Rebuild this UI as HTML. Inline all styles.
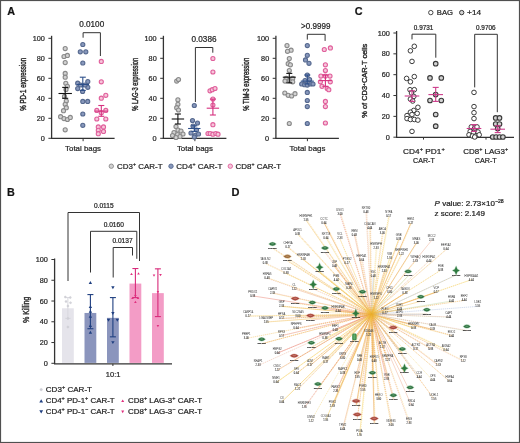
<!DOCTYPE html>
<html><head><meta charset="utf-8"><style>
html,body{margin:0;padding:0;background:#fff;}
body{width:520px;height:443px;overflow:hidden;}
svg{display:block;will-change:transform;font-family:"Liberation Sans",sans-serif;}
.hv text{stroke:#2a2a2a;stroke-width:0.22px;}
</style></head><body>
<svg width="520" height="443" viewBox="0 0 520 443">
<rect x="0" y="0" width="520" height="443" fill="#fff"/>
<g class="hv">
<text x="7.20" y="14.50" font-size="10.8" text-anchor="start" font-weight="bold" fill="#111" >A</text>
<text x="7.00" y="196.30" font-size="10.8" text-anchor="start" font-weight="bold" fill="#111" >B</text>
<text x="354.80" y="14.60" font-size="10.8" text-anchor="start" font-weight="bold" fill="#111" >C</text>
<text x="231.60" y="196.30" font-size="11" text-anchor="start" font-weight="bold" fill="#111" stroke="#111" stroke-width="0.25">D</text>
<line x1="51.60" y1="35.80" x2="51.60" y2="138.60" stroke="#333" stroke-width="1.3" />
<line x1="48.40" y1="138.30" x2="51.60" y2="138.30" stroke="#333" stroke-width="1.0" />
<text x="44.90" y="140.90" font-size="7.4" text-anchor="end" fill="#222" textLength="4.1" lengthAdjust="spacingAndGlyphs">0</text>
<line x1="48.40" y1="118.30" x2="51.60" y2="118.30" stroke="#333" stroke-width="1.0" />
<text x="44.90" y="120.90" font-size="7.4" text-anchor="end" fill="#222" textLength="8.1" lengthAdjust="spacingAndGlyphs">20</text>
<line x1="48.40" y1="98.30" x2="51.60" y2="98.30" stroke="#333" stroke-width="1.0" />
<text x="44.90" y="100.90" font-size="7.4" text-anchor="end" fill="#222" textLength="8.1" lengthAdjust="spacingAndGlyphs">40</text>
<line x1="48.40" y1="78.30" x2="51.60" y2="78.30" stroke="#333" stroke-width="1.0" />
<text x="44.90" y="80.90" font-size="7.4" text-anchor="end" fill="#222" textLength="8.1" lengthAdjust="spacingAndGlyphs">60</text>
<line x1="48.40" y1="58.30" x2="51.60" y2="58.30" stroke="#333" stroke-width="1.0" />
<text x="44.90" y="60.90" font-size="7.4" text-anchor="end" fill="#222" textLength="8.1" lengthAdjust="spacingAndGlyphs">80</text>
<line x1="48.40" y1="38.30" x2="51.60" y2="38.30" stroke="#333" stroke-width="1.0" />
<text x="44.90" y="40.90" font-size="7.4" text-anchor="end" fill="#222" textLength="12.2" lengthAdjust="spacingAndGlyphs">100</text>
<line x1="51.00" y1="138.30" x2="114.60" y2="138.30" stroke="#333" stroke-width="1.3" />
<line x1="83.10" y1="138.30" x2="83.10" y2="141.20" stroke="#333" stroke-width="1.0" />
<text x="83.10" y="150.90" font-size="7.9" text-anchor="middle" font-weight="normal" fill="#222" >Total bags</text>
<text transform="translate(25.5,84.3) rotate(-90)" x="0" y="0" font-size="8.4" text-anchor="middle" fill="#222" style="stroke-width:0.42px" textLength="53" lengthAdjust="spacingAndGlyphs">% PD-1 expression</text>
<circle cx="65.20" cy="48.60" r="2.05" fill="#d2d2d2" stroke="#8a8a8a" stroke-width="1.1"/>
<circle cx="64.00" cy="56.50" r="2.05" fill="#d2d2d2" stroke="#8a8a8a" stroke-width="1.1"/>
<circle cx="67.40" cy="55.40" r="2.05" fill="#d2d2d2" stroke="#8a8a8a" stroke-width="1.1"/>
<circle cx="65.20" cy="62.60" r="2.05" fill="#d2d2d2" stroke="#8a8a8a" stroke-width="1.1"/>
<circle cx="65.20" cy="73.40" r="2.05" fill="#d2d2d2" stroke="#8a8a8a" stroke-width="1.1"/>
<circle cx="65.20" cy="77.20" r="2.05" fill="#d2d2d2" stroke="#8a8a8a" stroke-width="1.1"/>
<circle cx="65.80" cy="83.30" r="2.05" fill="#d2d2d2" stroke="#8a8a8a" stroke-width="1.1"/>
<circle cx="67.40" cy="86.30" r="2.05" fill="#d2d2d2" stroke="#8a8a8a" stroke-width="1.1"/>
<circle cx="64.50" cy="96.40" r="2.05" fill="#d2d2d2" stroke="#8a8a8a" stroke-width="1.1"/>
<circle cx="66.30" cy="101.00" r="2.05" fill="#d2d2d2" stroke="#8a8a8a" stroke-width="1.1"/>
<circle cx="65.20" cy="104.30" r="2.05" fill="#d2d2d2" stroke="#8a8a8a" stroke-width="1.1"/>
<circle cx="66.30" cy="107.70" r="2.05" fill="#d2d2d2" stroke="#8a8a8a" stroke-width="1.1"/>
<circle cx="60.60" cy="116.70" r="2.05" fill="#d2d2d2" stroke="#8a8a8a" stroke-width="1.1"/>
<circle cx="64.00" cy="118.60" r="2.05" fill="#d2d2d2" stroke="#8a8a8a" stroke-width="1.1"/>
<circle cx="67.40" cy="119.50" r="2.05" fill="#d2d2d2" stroke="#8a8a8a" stroke-width="1.1"/>
<circle cx="70.30" cy="117.40" r="2.05" fill="#d2d2d2" stroke="#8a8a8a" stroke-width="1.1"/>
<circle cx="65.20" cy="129.80" r="2.05" fill="#d2d2d2" stroke="#8a8a8a" stroke-width="1.1"/>
<circle cx="66.00" cy="89.50" r="2.05" fill="#d2d2d2" stroke="#8a8a8a" stroke-width="1.1"/>
<circle cx="63.50" cy="110.70" r="2.05" fill="#d2d2d2" stroke="#8a8a8a" stroke-width="1.1"/>
<circle cx="82.80" cy="44.50" r="2.05" fill="#8898bc" stroke="#56698f" stroke-width="1.1"/>
<circle cx="80.30" cy="51.80" r="2.05" fill="#8898bc" stroke="#56698f" stroke-width="1.1"/>
<circle cx="85.80" cy="51.80" r="2.05" fill="#8898bc" stroke="#56698f" stroke-width="1.1"/>
<circle cx="82.80" cy="63.00" r="2.05" fill="#8898bc" stroke="#56698f" stroke-width="1.1"/>
<circle cx="77.70" cy="83.20" r="2.05" fill="#8898bc" stroke="#56698f" stroke-width="1.1"/>
<circle cx="87.80" cy="81.60" r="2.05" fill="#8898bc" stroke="#56698f" stroke-width="1.1"/>
<circle cx="87.80" cy="87.30" r="2.05" fill="#8898bc" stroke="#56698f" stroke-width="1.1"/>
<circle cx="77.70" cy="88.60" r="2.05" fill="#8898bc" stroke="#56698f" stroke-width="1.1"/>
<circle cx="82.60" cy="91.50" r="2.05" fill="#8898bc" stroke="#56698f" stroke-width="1.1"/>
<circle cx="80.50" cy="85.00" r="2.05" fill="#8898bc" stroke="#56698f" stroke-width="1.1"/>
<circle cx="85.00" cy="85.00" r="2.05" fill="#8898bc" stroke="#56698f" stroke-width="1.1"/>
<circle cx="82.80" cy="101.40" r="2.05" fill="#8898bc" stroke="#56698f" stroke-width="1.1"/>
<circle cx="87.70" cy="101.40" r="2.05" fill="#8898bc" stroke="#56698f" stroke-width="1.1"/>
<circle cx="82.80" cy="114.00" r="2.05" fill="#8898bc" stroke="#56698f" stroke-width="1.1"/>
<circle cx="82.80" cy="125.30" r="2.05" fill="#8898bc" stroke="#56698f" stroke-width="1.1"/>
<circle cx="101.30" cy="61.40" r="2.05" fill="#f6c6da" stroke="#e0609c" stroke-width="1.1"/>
<circle cx="101.30" cy="81.80" r="2.05" fill="#f6c6da" stroke="#e0609c" stroke-width="1.1"/>
<circle cx="101.30" cy="98.20" r="2.05" fill="#f6c6da" stroke="#e0609c" stroke-width="1.1"/>
<circle cx="105.80" cy="95.30" r="2.05" fill="#f6c6da" stroke="#e0609c" stroke-width="1.1"/>
<circle cx="96.80" cy="110.40" r="2.05" fill="#f6c6da" stroke="#e0609c" stroke-width="1.1"/>
<circle cx="105.80" cy="110.40" r="2.05" fill="#f6c6da" stroke="#e0609c" stroke-width="1.1"/>
<circle cx="101.30" cy="112.70" r="2.05" fill="#f6c6da" stroke="#e0609c" stroke-width="1.1"/>
<circle cx="96.80" cy="119.00" r="2.05" fill="#f6c6da" stroke="#e0609c" stroke-width="1.1"/>
<circle cx="105.80" cy="119.00" r="2.05" fill="#f6c6da" stroke="#e0609c" stroke-width="1.1"/>
<circle cx="98.30" cy="126.90" r="2.05" fill="#f6c6da" stroke="#e0609c" stroke-width="1.1"/>
<circle cx="103.50" cy="126.90" r="2.05" fill="#f6c6da" stroke="#e0609c" stroke-width="1.1"/>
<circle cx="98.30" cy="130.30" r="2.05" fill="#f6c6da" stroke="#e0609c" stroke-width="1.1"/>
<circle cx="103.50" cy="131.40" r="2.05" fill="#f6c6da" stroke="#e0609c" stroke-width="1.1"/>
<circle cx="98.30" cy="133.70" r="2.05" fill="#f6c6da" stroke="#e0609c" stroke-width="1.1"/>
<line x1="58.50" y1="93.50" x2="71.90" y2="93.50" stroke="#111" stroke-width="1.1" />
<line x1="65.20" y1="87.40" x2="65.20" y2="98.30" stroke="#111" stroke-width="1.1" />
<line x1="62.20" y1="87.40" x2="68.20" y2="87.40" stroke="#111" stroke-width="1.1" />
<line x1="62.20" y1="98.30" x2="68.20" y2="98.30" stroke="#111" stroke-width="1.1" />
<line x1="76.60" y1="84.50" x2="89.00" y2="84.50" stroke="#2d4f8a" stroke-width="1.1" />
<line x1="82.80" y1="77.20" x2="82.80" y2="90.40" stroke="#2d4f8a" stroke-width="1.1" />
<line x1="79.80" y1="77.20" x2="85.80" y2="77.20" stroke="#2d4f8a" stroke-width="1.1" />
<line x1="79.80" y1="90.40" x2="85.80" y2="90.40" stroke="#2d4f8a" stroke-width="1.1" />
<line x1="94.60" y1="111.10" x2="108.00" y2="111.10" stroke="#d6307f" stroke-width="1.1" />
<line x1="101.30" y1="105.50" x2="101.30" y2="116.30" stroke="#d6307f" stroke-width="1.1" />
<line x1="98.30" y1="105.50" x2="104.30" y2="105.50" stroke="#d6307f" stroke-width="1.1" />
<line x1="98.30" y1="116.30" x2="104.30" y2="116.30" stroke="#d6307f" stroke-width="1.1" />
<polyline points="83.1,37.7 83.1,32.7 100.4,32.7 100.4,56" fill="none" stroke="#333" stroke-width="1"/>
<text x="91.70" y="27.30" font-size="8.2" text-anchor="middle" fill="#222" textLength="25" lengthAdjust="spacingAndGlyphs">0.0100</text>
<line x1="163.40" y1="35.80" x2="163.40" y2="138.60" stroke="#333" stroke-width="1.3" />
<line x1="160.20" y1="138.30" x2="163.40" y2="138.30" stroke="#333" stroke-width="1.0" />
<text x="156.70" y="140.90" font-size="7.4" text-anchor="end" fill="#222" textLength="4.1" lengthAdjust="spacingAndGlyphs">0</text>
<line x1="160.20" y1="118.30" x2="163.40" y2="118.30" stroke="#333" stroke-width="1.0" />
<text x="156.70" y="120.90" font-size="7.4" text-anchor="end" fill="#222" textLength="8.1" lengthAdjust="spacingAndGlyphs">20</text>
<line x1="160.20" y1="98.30" x2="163.40" y2="98.30" stroke="#333" stroke-width="1.0" />
<text x="156.70" y="100.90" font-size="7.4" text-anchor="end" fill="#222" textLength="8.1" lengthAdjust="spacingAndGlyphs">40</text>
<line x1="160.20" y1="78.30" x2="163.40" y2="78.30" stroke="#333" stroke-width="1.0" />
<text x="156.70" y="80.90" font-size="7.4" text-anchor="end" fill="#222" textLength="8.1" lengthAdjust="spacingAndGlyphs">60</text>
<line x1="160.20" y1="58.30" x2="163.40" y2="58.30" stroke="#333" stroke-width="1.0" />
<text x="156.70" y="60.90" font-size="7.4" text-anchor="end" fill="#222" textLength="8.1" lengthAdjust="spacingAndGlyphs">80</text>
<line x1="160.20" y1="38.30" x2="163.40" y2="38.30" stroke="#333" stroke-width="1.0" />
<text x="156.70" y="40.90" font-size="7.4" text-anchor="end" fill="#222" textLength="12.2" lengthAdjust="spacingAndGlyphs">100</text>
<line x1="162.80" y1="138.30" x2="226.40" y2="138.30" stroke="#333" stroke-width="1.3" />
<line x1="194.90" y1="138.30" x2="194.90" y2="141.20" stroke="#333" stroke-width="1.0" />
<text x="194.90" y="150.90" font-size="7.9" text-anchor="middle" font-weight="normal" fill="#222" >Total bags</text>
<text transform="translate(137.5,84.3) rotate(-90)" x="0" y="0" font-size="8.4" text-anchor="middle" fill="#222" style="stroke-width:0.42px" textLength="53" lengthAdjust="spacingAndGlyphs">% LAG-3 expression</text>
<circle cx="176.70" cy="81.10" r="2.05" fill="#d2d2d2" stroke="#8a8a8a" stroke-width="1.1"/>
<circle cx="178.50" cy="79.50" r="2.05" fill="#d2d2d2" stroke="#8a8a8a" stroke-width="1.1"/>
<circle cx="177.90" cy="99.80" r="2.05" fill="#d2d2d2" stroke="#8a8a8a" stroke-width="1.1"/>
<circle cx="177.90" cy="104.30" r="2.05" fill="#d2d2d2" stroke="#8a8a8a" stroke-width="1.1"/>
<circle cx="176.70" cy="107.70" r="2.05" fill="#d2d2d2" stroke="#8a8a8a" stroke-width="1.1"/>
<circle cx="178.50" cy="110.00" r="2.05" fill="#d2d2d2" stroke="#8a8a8a" stroke-width="1.1"/>
<circle cx="176.00" cy="126.50" r="2.05" fill="#d2d2d2" stroke="#8a8a8a" stroke-width="1.1"/>
<circle cx="178.00" cy="130.00" r="2.05" fill="#d2d2d2" stroke="#8a8a8a" stroke-width="1.1"/>
<circle cx="174.00" cy="132.50" r="2.05" fill="#d2d2d2" stroke="#8a8a8a" stroke-width="1.1"/>
<circle cx="181.00" cy="131.00" r="2.05" fill="#d2d2d2" stroke="#8a8a8a" stroke-width="1.1"/>
<circle cx="183.00" cy="134.00" r="2.05" fill="#d2d2d2" stroke="#8a8a8a" stroke-width="1.1"/>
<circle cx="177.50" cy="134.50" r="2.05" fill="#d2d2d2" stroke="#8a8a8a" stroke-width="1.1"/>
<circle cx="172.50" cy="135.50" r="2.05" fill="#d2d2d2" stroke="#8a8a8a" stroke-width="1.1"/>
<circle cx="180.00" cy="136.50" r="2.05" fill="#d2d2d2" stroke="#8a8a8a" stroke-width="1.1"/>
<circle cx="176.00" cy="137.50" r="2.05" fill="#d2d2d2" stroke="#8a8a8a" stroke-width="1.1"/>
<circle cx="194.30" cy="105.50" r="2.05" fill="#8898bc" stroke="#56698f" stroke-width="1.1"/>
<circle cx="192.50" cy="120.50" r="2.05" fill="#8898bc" stroke="#56698f" stroke-width="1.1"/>
<circle cx="197.50" cy="123.00" r="2.05" fill="#8898bc" stroke="#56698f" stroke-width="1.1"/>
<circle cx="193.00" cy="126.00" r="2.05" fill="#8898bc" stroke="#56698f" stroke-width="1.1"/>
<circle cx="196.50" cy="130.00" r="2.05" fill="#8898bc" stroke="#56698f" stroke-width="1.1"/>
<circle cx="191.00" cy="133.00" r="2.05" fill="#8898bc" stroke="#56698f" stroke-width="1.1"/>
<circle cx="195.00" cy="135.50" r="2.05" fill="#8898bc" stroke="#56698f" stroke-width="1.1"/>
<circle cx="198.50" cy="134.00" r="2.05" fill="#8898bc" stroke="#56698f" stroke-width="1.1"/>
<circle cx="194.30" cy="137.00" r="2.05" fill="#8898bc" stroke="#56698f" stroke-width="1.1"/>
<circle cx="212.90" cy="58.50" r="2.05" fill="#f6c6da" stroke="#e0609c" stroke-width="1.1"/>
<circle cx="212.90" cy="72.00" r="2.05" fill="#f6c6da" stroke="#e0609c" stroke-width="1.1"/>
<circle cx="210.00" cy="90.80" r="2.05" fill="#f6c6da" stroke="#e0609c" stroke-width="1.1"/>
<circle cx="212.30" cy="89.70" r="2.05" fill="#f6c6da" stroke="#e0609c" stroke-width="1.1"/>
<circle cx="215.00" cy="88.50" r="2.05" fill="#f6c6da" stroke="#e0609c" stroke-width="1.1"/>
<circle cx="212.90" cy="99.00" r="2.05" fill="#f6c6da" stroke="#e0609c" stroke-width="1.1"/>
<circle cx="212.90" cy="105.00" r="2.05" fill="#f6c6da" stroke="#e0609c" stroke-width="1.1"/>
<circle cx="212.90" cy="124.70" r="2.05" fill="#f6c6da" stroke="#e0609c" stroke-width="1.1"/>
<circle cx="208.00" cy="133.50" r="2.05" fill="#f6c6da" stroke="#e0609c" stroke-width="1.1"/>
<circle cx="210.20" cy="133.50" r="2.05" fill="#f6c6da" stroke="#e0609c" stroke-width="1.1"/>
<circle cx="212.90" cy="134.20" r="2.05" fill="#f6c6da" stroke="#e0609c" stroke-width="1.1"/>
<circle cx="215.80" cy="133.50" r="2.05" fill="#f6c6da" stroke="#e0609c" stroke-width="1.1"/>
<circle cx="218.00" cy="134.20" r="2.05" fill="#f6c6da" stroke="#e0609c" stroke-width="1.1"/>
<line x1="171.70" y1="119.00" x2="184.10" y2="119.00" stroke="#111" stroke-width="1.1" />
<line x1="177.90" y1="114.00" x2="177.90" y2="124.00" stroke="#111" stroke-width="1.1" />
<line x1="174.90" y1="114.00" x2="180.90" y2="114.00" stroke="#111" stroke-width="1.1" />
<line x1="174.90" y1="124.00" x2="180.90" y2="124.00" stroke="#111" stroke-width="1.1" />
<line x1="188.10" y1="128.50" x2="200.50" y2="128.50" stroke="#2d4f8a" stroke-width="1.1" />
<line x1="194.30" y1="125.80" x2="194.30" y2="131.40" stroke="#2d4f8a" stroke-width="1.1" />
<line x1="191.30" y1="125.80" x2="197.30" y2="125.80" stroke="#2d4f8a" stroke-width="1.1" />
<line x1="191.30" y1="131.40" x2="197.30" y2="131.40" stroke="#2d4f8a" stroke-width="1.1" />
<line x1="206.70" y1="108.20" x2="219.10" y2="108.20" stroke="#d6307f" stroke-width="1.1" />
<line x1="212.90" y1="99.10" x2="212.90" y2="115.00" stroke="#d6307f" stroke-width="1.1" />
<line x1="209.90" y1="99.10" x2="215.90" y2="99.10" stroke="#d6307f" stroke-width="1.1" />
<line x1="209.90" y1="115.00" x2="215.90" y2="115.00" stroke="#d6307f" stroke-width="1.1" />
<polyline points="195.4,102 195.4,47.5 212.8,47.5 212.8,52.7" fill="none" stroke="#333" stroke-width="1"/>
<text x="204.00" y="42.20" font-size="8.2" text-anchor="middle" fill="#222" textLength="25" lengthAdjust="spacingAndGlyphs">0.0386</text>
<line x1="275.90" y1="35.80" x2="275.90" y2="138.60" stroke="#333" stroke-width="1.3" />
<line x1="272.70" y1="138.30" x2="275.90" y2="138.30" stroke="#333" stroke-width="1.0" />
<text x="269.20" y="140.90" font-size="7.4" text-anchor="end" fill="#222" textLength="4.1" lengthAdjust="spacingAndGlyphs">0</text>
<line x1="272.70" y1="118.30" x2="275.90" y2="118.30" stroke="#333" stroke-width="1.0" />
<text x="269.20" y="120.90" font-size="7.4" text-anchor="end" fill="#222" textLength="8.1" lengthAdjust="spacingAndGlyphs">20</text>
<line x1="272.70" y1="98.30" x2="275.90" y2="98.30" stroke="#333" stroke-width="1.0" />
<text x="269.20" y="100.90" font-size="7.4" text-anchor="end" fill="#222" textLength="8.1" lengthAdjust="spacingAndGlyphs">40</text>
<line x1="272.70" y1="78.30" x2="275.90" y2="78.30" stroke="#333" stroke-width="1.0" />
<text x="269.20" y="80.90" font-size="7.4" text-anchor="end" fill="#222" textLength="8.1" lengthAdjust="spacingAndGlyphs">60</text>
<line x1="272.70" y1="58.30" x2="275.90" y2="58.30" stroke="#333" stroke-width="1.0" />
<text x="269.20" y="60.90" font-size="7.4" text-anchor="end" fill="#222" textLength="8.1" lengthAdjust="spacingAndGlyphs">80</text>
<line x1="272.70" y1="38.30" x2="275.90" y2="38.30" stroke="#333" stroke-width="1.0" />
<text x="269.20" y="40.90" font-size="7.4" text-anchor="end" fill="#222" textLength="12.2" lengthAdjust="spacingAndGlyphs">100</text>
<line x1="275.30" y1="138.30" x2="338.90" y2="138.30" stroke="#333" stroke-width="1.3" />
<line x1="307.40" y1="138.30" x2="307.40" y2="141.20" stroke="#333" stroke-width="1.0" />
<text x="307.40" y="150.90" font-size="7.9" text-anchor="middle" font-weight="normal" fill="#222" >Total bags</text>
<text transform="translate(248.7,84.3) rotate(-90)" x="0" y="0" font-size="8.4" text-anchor="middle" fill="#222" style="stroke-width:0.42px" textLength="53" lengthAdjust="spacingAndGlyphs">% TIM-3 expression</text>
<circle cx="287.00" cy="45.60" r="2.05" fill="#d2d2d2" stroke="#8a8a8a" stroke-width="1.1"/>
<circle cx="291.10" cy="50.20" r="2.05" fill="#d2d2d2" stroke="#8a8a8a" stroke-width="1.1"/>
<circle cx="287.50" cy="51.30" r="2.05" fill="#d2d2d2" stroke="#8a8a8a" stroke-width="1.1"/>
<circle cx="289.30" cy="58.50" r="2.05" fill="#d2d2d2" stroke="#8a8a8a" stroke-width="1.1"/>
<circle cx="288.20" cy="63.70" r="2.05" fill="#d2d2d2" stroke="#8a8a8a" stroke-width="1.1"/>
<circle cx="290.40" cy="64.80" r="2.05" fill="#d2d2d2" stroke="#8a8a8a" stroke-width="1.1"/>
<circle cx="289.30" cy="70.50" r="2.05" fill="#d2d2d2" stroke="#8a8a8a" stroke-width="1.1"/>
<circle cx="286.20" cy="78.40" r="2.05" fill="#d2d2d2" stroke="#8a8a8a" stroke-width="1.1"/>
<circle cx="289.30" cy="80.60" r="2.05" fill="#d2d2d2" stroke="#8a8a8a" stroke-width="1.1"/>
<circle cx="292.70" cy="78.40" r="2.05" fill="#d2d2d2" stroke="#8a8a8a" stroke-width="1.1"/>
<circle cx="285.00" cy="81.10" r="2.05" fill="#d2d2d2" stroke="#8a8a8a" stroke-width="1.1"/>
<circle cx="292.70" cy="81.80" r="2.05" fill="#d2d2d2" stroke="#8a8a8a" stroke-width="1.1"/>
<circle cx="284.80" cy="93.00" r="2.05" fill="#d2d2d2" stroke="#8a8a8a" stroke-width="1.1"/>
<circle cx="288.20" cy="95.30" r="2.05" fill="#d2d2d2" stroke="#8a8a8a" stroke-width="1.1"/>
<circle cx="291.60" cy="96.00" r="2.05" fill="#d2d2d2" stroke="#8a8a8a" stroke-width="1.1"/>
<circle cx="295.00" cy="93.70" r="2.05" fill="#d2d2d2" stroke="#8a8a8a" stroke-width="1.1"/>
<circle cx="289.30" cy="123.50" r="2.05" fill="#d2d2d2" stroke="#8a8a8a" stroke-width="1.1"/>
<circle cx="307.30" cy="45.60" r="2.05" fill="#8898bc" stroke="#56698f" stroke-width="1.1"/>
<circle cx="307.30" cy="55.30" r="2.05" fill="#8898bc" stroke="#56698f" stroke-width="1.1"/>
<circle cx="305.50" cy="59.90" r="2.05" fill="#8898bc" stroke="#56698f" stroke-width="1.1"/>
<circle cx="309.00" cy="63.30" r="2.05" fill="#8898bc" stroke="#56698f" stroke-width="1.1"/>
<circle cx="307.30" cy="75.00" r="2.05" fill="#8898bc" stroke="#56698f" stroke-width="1.1"/>
<circle cx="305.00" cy="80.60" r="2.05" fill="#8898bc" stroke="#56698f" stroke-width="1.1"/>
<circle cx="309.60" cy="79.50" r="2.05" fill="#8898bc" stroke="#56698f" stroke-width="1.1"/>
<circle cx="301.70" cy="84.00" r="2.05" fill="#8898bc" stroke="#56698f" stroke-width="1.1"/>
<circle cx="304.60" cy="84.70" r="2.05" fill="#8898bc" stroke="#56698f" stroke-width="1.1"/>
<circle cx="307.30" cy="85.10" r="2.05" fill="#8898bc" stroke="#56698f" stroke-width="1.1"/>
<circle cx="310.30" cy="84.00" r="2.05" fill="#8898bc" stroke="#56698f" stroke-width="1.1"/>
<circle cx="313.00" cy="84.00" r="2.05" fill="#8898bc" stroke="#56698f" stroke-width="1.1"/>
<circle cx="307.30" cy="92.40" r="2.05" fill="#8898bc" stroke="#56698f" stroke-width="1.1"/>
<circle cx="307.30" cy="100.50" r="2.05" fill="#8898bc" stroke="#56698f" stroke-width="1.1"/>
<circle cx="307.30" cy="106.60" r="2.05" fill="#8898bc" stroke="#56698f" stroke-width="1.1"/>
<circle cx="307.30" cy="123.50" r="2.05" fill="#8898bc" stroke="#56698f" stroke-width="1.1"/>
<circle cx="324.30" cy="49.50" r="2.05" fill="#f6c6da" stroke="#e0609c" stroke-width="1.1"/>
<circle cx="330.40" cy="47.90" r="2.05" fill="#f6c6da" stroke="#e0609c" stroke-width="1.1"/>
<circle cx="325.40" cy="64.80" r="2.05" fill="#f6c6da" stroke="#e0609c" stroke-width="1.1"/>
<circle cx="325.40" cy="70.50" r="2.05" fill="#f6c6da" stroke="#e0609c" stroke-width="1.1"/>
<circle cx="320.90" cy="76.10" r="2.05" fill="#f6c6da" stroke="#e0609c" stroke-width="1.1"/>
<circle cx="330.00" cy="76.10" r="2.05" fill="#f6c6da" stroke="#e0609c" stroke-width="1.1"/>
<circle cx="325.40" cy="76.10" r="2.05" fill="#f6c6da" stroke="#e0609c" stroke-width="1.1"/>
<circle cx="320.40" cy="81.80" r="2.05" fill="#f6c6da" stroke="#e0609c" stroke-width="1.1"/>
<circle cx="330.30" cy="81.80" r="2.05" fill="#f6c6da" stroke="#e0609c" stroke-width="1.1"/>
<circle cx="322.00" cy="86.30" r="2.05" fill="#f6c6da" stroke="#e0609c" stroke-width="1.1"/>
<circle cx="327.20" cy="88.50" r="2.05" fill="#f6c6da" stroke="#e0609c" stroke-width="1.1"/>
<circle cx="328.80" cy="89.70" r="2.05" fill="#f6c6da" stroke="#e0609c" stroke-width="1.1"/>
<circle cx="325.40" cy="101.40" r="2.05" fill="#f6c6da" stroke="#e0609c" stroke-width="1.1"/>
<circle cx="325.40" cy="106.60" r="2.05" fill="#f6c6da" stroke="#e0609c" stroke-width="1.1"/>
<circle cx="325.40" cy="123.00" r="2.05" fill="#f6c6da" stroke="#e0609c" stroke-width="1.1"/>
<line x1="282.80" y1="77.20" x2="295.80" y2="77.20" stroke="#111" stroke-width="1.1" />
<line x1="289.30" y1="73.40" x2="289.30" y2="82.90" stroke="#111" stroke-width="1.1" />
<line x1="286.30" y1="73.40" x2="292.30" y2="73.40" stroke="#111" stroke-width="1.1" />
<line x1="286.30" y1="82.90" x2="292.30" y2="82.90" stroke="#111" stroke-width="1.1" />
<line x1="300.80" y1="81.10" x2="313.80" y2="81.10" stroke="#2d4f8a" stroke-width="1.1" />
<line x1="307.30" y1="75.00" x2="307.30" y2="84.00" stroke="#2d4f8a" stroke-width="1.1" />
<line x1="304.30" y1="75.00" x2="310.30" y2="75.00" stroke="#2d4f8a" stroke-width="1.1" />
<line x1="304.30" y1="84.00" x2="310.30" y2="84.00" stroke="#2d4f8a" stroke-width="1.1" />
<line x1="318.90" y1="80.60" x2="331.90" y2="80.60" stroke="#d6307f" stroke-width="1.1" />
<line x1="325.40" y1="75.00" x2="325.40" y2="86.30" stroke="#d6307f" stroke-width="1.1" />
<line x1="322.40" y1="75.00" x2="328.40" y2="75.00" stroke="#d6307f" stroke-width="1.1" />
<line x1="322.40" y1="86.30" x2="328.40" y2="86.30" stroke="#d6307f" stroke-width="1.1" />
<polyline points="307.3,39.6 307.3,34.3 325.1,34.3 325.1,40.9" fill="none" stroke="#333" stroke-width="1"/>
<text x="315.80" y="29.20" font-size="8.2" text-anchor="middle" fill="#222" textLength="29.4" lengthAdjust="spacingAndGlyphs">&gt;0.9999</text>
<circle cx="111.30" cy="166.20" r="2.2" fill="#d2d2d2" stroke="#8a8a8a" stroke-width="0.9"/>
<text x="117.00" y="169.00" font-size="8.0" text-anchor="start" fill="#222" textLength="45.5" lengthAdjust="spacingAndGlyphs">CD3<tspan font-size="5.2" dy="-2.9">+</tspan><tspan dy="2.9"> CAR-T</tspan></text>
<circle cx="171.00" cy="166.20" r="2.2" fill="#8898bc" stroke="#56698f" stroke-width="0.9"/>
<text x="176.20" y="169.00" font-size="8.0" text-anchor="start" fill="#222" textLength="46.3" lengthAdjust="spacingAndGlyphs">CD4<tspan font-size="5.2" dy="-2.9">+</tspan><tspan dy="2.9"> CAR-T</tspan></text>
<circle cx="230.30" cy="166.20" r="2.2" fill="#f6c6da" stroke="#e0609c" stroke-width="0.9"/>
<text x="235.60" y="169.00" font-size="8.0" text-anchor="start" fill="#222" textLength="45.5" lengthAdjust="spacingAndGlyphs">CD8<tspan font-size="5.2" dy="-2.9">+</tspan><tspan dy="2.9"> CAR-T</tspan></text>
<line x1="396.60" y1="31.00" x2="396.60" y2="137.60" stroke="#333" stroke-width="1.3" />
<line x1="393.40" y1="137.20" x2="396.60" y2="137.20" stroke="#333" stroke-width="1.0" />
<text x="389.90" y="139.80" font-size="7.4" text-anchor="end" fill="#222" textLength="4.1" lengthAdjust="spacingAndGlyphs">0</text>
<line x1="393.40" y1="116.36" x2="396.60" y2="116.36" stroke="#333" stroke-width="1.0" />
<text x="389.90" y="118.96" font-size="7.4" text-anchor="end" fill="#222" textLength="8.1" lengthAdjust="spacingAndGlyphs">20</text>
<line x1="393.40" y1="95.52" x2="396.60" y2="95.52" stroke="#333" stroke-width="1.0" />
<text x="389.90" y="98.12" font-size="7.4" text-anchor="end" fill="#222" textLength="8.1" lengthAdjust="spacingAndGlyphs">40</text>
<line x1="393.40" y1="74.68" x2="396.60" y2="74.68" stroke="#333" stroke-width="1.0" />
<text x="389.90" y="77.28" font-size="7.4" text-anchor="end" fill="#222" textLength="8.1" lengthAdjust="spacingAndGlyphs">60</text>
<line x1="393.40" y1="53.84" x2="396.60" y2="53.84" stroke="#333" stroke-width="1.0" />
<text x="389.90" y="56.44" font-size="7.4" text-anchor="end" fill="#222" textLength="8.1" lengthAdjust="spacingAndGlyphs">80</text>
<line x1="393.40" y1="33.00" x2="396.60" y2="33.00" stroke="#333" stroke-width="1.0" />
<text x="389.90" y="35.60" font-size="7.4" text-anchor="end" fill="#222" textLength="12.2" lengthAdjust="spacingAndGlyphs">100</text>
<line x1="396.00" y1="137.30" x2="514.00" y2="137.30" stroke="#333" stroke-width="1.3" />
<line x1="423.50" y1="137.30" x2="423.50" y2="139.60" stroke="#333" stroke-width="1.0" />
<line x1="486.00" y1="137.30" x2="486.00" y2="139.60" stroke="#333" stroke-width="1.0" />
<text transform="translate(367.4,80.7) rotate(-90)" x="0" y="0" font-size="6.3" text-anchor="middle" fill="#222" style="stroke-width:0.35px" textLength="74" lengthAdjust="spacingAndGlyphs">% of CD3<tspan font-size="4.2" dy="-2.2">+</tspan><tspan dy="2.2">CAR-T cells</tspan></text>
<text x="423.90" y="153.90" font-size="7.6" text-anchor="middle" fill="#222" textLength="41.6" lengthAdjust="spacingAndGlyphs">CD4<tspan font-size="5.2" dy="-2.9">+</tspan><tspan dy="2.9"> PD1<tspan font-size="5.2" dy="-2.9">+</tspan><tspan dy="2.9"></tspan></tspan></text>
<text x="423.90" y="163.10" font-size="7.6" text-anchor="middle" fill="#222" textLength="21.7" lengthAdjust="spacingAndGlyphs">CAR-T</text>
<text x="485.70" y="153.90" font-size="7.6" text-anchor="middle" fill="#222" textLength="45" lengthAdjust="spacingAndGlyphs">CD8<tspan font-size="5.2" dy="-2.9">+</tspan><tspan dy="2.9"> LAG3<tspan font-size="5.2" dy="-2.9">+</tspan><tspan dy="2.9"></tspan></tspan></text>
<text x="485.70" y="163.10" font-size="7.6" text-anchor="middle" fill="#222" textLength="22" lengthAdjust="spacingAndGlyphs">CAR-T</text>
<circle cx="414.30" cy="46.30" r="2.3" fill="#ffffff" stroke="#333333" stroke-width="0.95"/>
<circle cx="410.40" cy="50.80" r="2.3" fill="#ffffff" stroke="#333333" stroke-width="0.95"/>
<circle cx="412.00" cy="61.40" r="2.3" fill="#ffffff" stroke="#333333" stroke-width="0.95"/>
<circle cx="406.60" cy="78.40" r="2.3" fill="#ffffff" stroke="#333333" stroke-width="0.95"/>
<circle cx="410.40" cy="81.80" r="2.3" fill="#ffffff" stroke="#333333" stroke-width="0.95"/>
<circle cx="414.30" cy="76.60" r="2.3" fill="#ffffff" stroke="#333333" stroke-width="0.95"/>
<circle cx="410.00" cy="89.70" r="2.3" fill="#ffffff" stroke="#333333" stroke-width="0.95"/>
<circle cx="414.30" cy="89.70" r="2.3" fill="#ffffff" stroke="#333333" stroke-width="0.95"/>
<circle cx="411.50" cy="93.00" r="2.3" fill="#ffffff" stroke="#333333" stroke-width="0.95"/>
<circle cx="413.80" cy="96.40" r="2.3" fill="#ffffff" stroke="#333333" stroke-width="0.95"/>
<circle cx="410.40" cy="99.10" r="2.3" fill="#ffffff" stroke="#333333" stroke-width="0.95"/>
<circle cx="412.70" cy="101.00" r="2.3" fill="#ffffff" stroke="#333333" stroke-width="0.95"/>
<circle cx="417.90" cy="107.30" r="2.3" fill="#ffffff" stroke="#333333" stroke-width="0.95"/>
<circle cx="413.80" cy="110.40" r="2.3" fill="#ffffff" stroke="#333333" stroke-width="0.95"/>
<circle cx="410.40" cy="112.20" r="2.3" fill="#ffffff" stroke="#333333" stroke-width="0.95"/>
<circle cx="417.20" cy="113.40" r="2.3" fill="#ffffff" stroke="#333333" stroke-width="0.95"/>
<circle cx="407.00" cy="115.60" r="2.3" fill="#ffffff" stroke="#333333" stroke-width="0.95"/>
<circle cx="412.00" cy="114.50" r="2.3" fill="#ffffff" stroke="#333333" stroke-width="0.95"/>
<circle cx="407.00" cy="118.60" r="2.3" fill="#ffffff" stroke="#333333" stroke-width="0.95"/>
<circle cx="410.40" cy="119.50" r="2.3" fill="#ffffff" stroke="#333333" stroke-width="0.95"/>
<circle cx="414.30" cy="119.50" r="2.3" fill="#ffffff" stroke="#333333" stroke-width="0.95"/>
<circle cx="417.90" cy="120.10" r="2.3" fill="#ffffff" stroke="#333333" stroke-width="0.95"/>
<circle cx="412.00" cy="131.40" r="2.3" fill="#ffffff" stroke="#333333" stroke-width="0.95"/>
<circle cx="435.70" cy="63.70" r="2.3" fill="#d2d2d2" stroke="#383838" stroke-width="1.1"/>
<circle cx="430.00" cy="77.90" r="2.3" fill="#d2d2d2" stroke="#383838" stroke-width="1.1"/>
<circle cx="441.30" cy="77.90" r="2.3" fill="#d2d2d2" stroke="#383838" stroke-width="1.1"/>
<circle cx="435.70" cy="94.60" r="2.3" fill="#d2d2d2" stroke="#383838" stroke-width="1.1"/>
<circle cx="430.00" cy="100.50" r="2.3" fill="#d2d2d2" stroke="#383838" stroke-width="1.1"/>
<circle cx="441.30" cy="100.50" r="2.3" fill="#d2d2d2" stroke="#383838" stroke-width="1.1"/>
<circle cx="435.70" cy="114.50" r="2.3" fill="#d2d2d2" stroke="#383838" stroke-width="1.1"/>
<circle cx="435.70" cy="126.20" r="2.3" fill="#d2d2d2" stroke="#383838" stroke-width="1.1"/>
<circle cx="474.00" cy="92.40" r="2.3" fill="#ffffff" stroke="#333333" stroke-width="0.95"/>
<circle cx="474.00" cy="106.60" r="2.3" fill="#ffffff" stroke="#333333" stroke-width="0.95"/>
<circle cx="474.00" cy="112.70" r="2.3" fill="#ffffff" stroke="#333333" stroke-width="0.95"/>
<circle cx="474.00" cy="118.60" r="2.3" fill="#ffffff" stroke="#333333" stroke-width="0.95"/>
<circle cx="471.30" cy="126.90" r="2.3" fill="#ffffff" stroke="#333333" stroke-width="0.95"/>
<circle cx="474.70" cy="128.00" r="2.3" fill="#ffffff" stroke="#333333" stroke-width="0.95"/>
<circle cx="477.00" cy="126.90" r="2.3" fill="#ffffff" stroke="#333333" stroke-width="0.95"/>
<circle cx="470.20" cy="131.40" r="2.3" fill="#ffffff" stroke="#333333" stroke-width="0.95"/>
<circle cx="473.50" cy="132.50" r="2.3" fill="#ffffff" stroke="#333333" stroke-width="0.95"/>
<circle cx="478.00" cy="132.00" r="2.3" fill="#ffffff" stroke="#333333" stroke-width="0.95"/>
<circle cx="469.00" cy="134.80" r="2.3" fill="#ffffff" stroke="#333333" stroke-width="0.95"/>
<circle cx="472.40" cy="136.00" r="2.3" fill="#ffffff" stroke="#333333" stroke-width="0.95"/>
<circle cx="475.80" cy="136.00" r="2.3" fill="#ffffff" stroke="#333333" stroke-width="0.95"/>
<circle cx="479.20" cy="134.80" r="2.3" fill="#ffffff" stroke="#333333" stroke-width="0.95"/>
<circle cx="474.70" cy="137.00" r="2.3" fill="#ffffff" stroke="#333333" stroke-width="0.95"/>
<circle cx="495.70" cy="117.90" r="2.3" fill="#d2d2d2" stroke="#383838" stroke-width="1.1"/>
<circle cx="499.50" cy="117.90" r="2.3" fill="#d2d2d2" stroke="#383838" stroke-width="1.1"/>
<circle cx="495.70" cy="124.00" r="2.3" fill="#d2d2d2" stroke="#383838" stroke-width="1.1"/>
<circle cx="499.50" cy="124.00" r="2.3" fill="#d2d2d2" stroke="#383838" stroke-width="1.1"/>
<circle cx="497.70" cy="128.50" r="2.3" fill="#d2d2d2" stroke="#383838" stroke-width="1.1"/>
<circle cx="492.70" cy="137.00" r="2.3" fill="#d2d2d2" stroke="#383838" stroke-width="1.1"/>
<circle cx="496.10" cy="137.00" r="2.3" fill="#d2d2d2" stroke="#383838" stroke-width="1.1"/>
<circle cx="499.50" cy="137.00" r="2.3" fill="#d2d2d2" stroke="#383838" stroke-width="1.1"/>
<circle cx="502.90" cy="137.00" r="2.3" fill="#d2d2d2" stroke="#383838" stroke-width="1.1"/>
<line x1="404.70" y1="96.00" x2="419.30" y2="96.00" stroke="#cc3a8a" stroke-width="1.1" />
<line x1="412.00" y1="90.80" x2="412.00" y2="101.40" stroke="#cc3a8a" stroke-width="1.1" />
<line x1="409.00" y1="90.80" x2="415.00" y2="90.80" stroke="#cc3a8a" stroke-width="1.1" />
<line x1="409.00" y1="101.40" x2="415.00" y2="101.40" stroke="#cc3a8a" stroke-width="1.1" />
<line x1="428.40" y1="94.60" x2="443.00" y2="94.60" stroke="#cc3a8a" stroke-width="1.1" />
<line x1="435.70" y1="87.40" x2="435.70" y2="101.40" stroke="#cc3a8a" stroke-width="1.1" />
<line x1="432.70" y1="87.40" x2="438.70" y2="87.40" stroke="#cc3a8a" stroke-width="1.1" />
<line x1="432.70" y1="101.40" x2="438.70" y2="101.40" stroke="#cc3a8a" stroke-width="1.1" />
<line x1="466.70" y1="128.50" x2="481.30" y2="128.50" stroke="#cc3a8a" stroke-width="1.1" />
<line x1="474.00" y1="124.60" x2="474.00" y2="131.40" stroke="#cc3a8a" stroke-width="1.1" />
<line x1="471.00" y1="124.60" x2="477.00" y2="124.60" stroke="#cc3a8a" stroke-width="1.1" />
<line x1="471.00" y1="131.40" x2="477.00" y2="131.40" stroke="#cc3a8a" stroke-width="1.1" />
<line x1="490.40" y1="129.20" x2="505.00" y2="129.20" stroke="#cc3a8a" stroke-width="1.1" />
<line x1="497.70" y1="125.80" x2="497.70" y2="132.60" stroke="#cc3a8a" stroke-width="1.1" />
<line x1="494.70" y1="125.80" x2="500.70" y2="125.80" stroke="#cc3a8a" stroke-width="1.1" />
<line x1="494.70" y1="132.60" x2="500.70" y2="132.60" stroke="#cc3a8a" stroke-width="1.1" />
<polyline points="412,39.4 412,34.2 435.8,34.2 435.8,57.7" fill="none" stroke="#333" stroke-width="1"/>
<polyline points="474.7,87.4 474.7,34.3 497.3,34.3 497.3,112.2" fill="none" stroke="#333" stroke-width="1"/>
<text x="423.60" y="29.80" font-size="6.4" text-anchor="middle" font-weight="normal" fill="#222" >0.9731</text>
<text x="485.80" y="29.80" font-size="6.4" text-anchor="middle" font-weight="normal" fill="#222" >0.9706</text>
<circle cx="430.80" cy="12.60" r="2.2" fill="#ffffff" stroke="#333333" stroke-width="0.9"/>
<text x="436.80" y="14.80" font-size="7.4" text-anchor="start" fill="#222" textLength="16.2" lengthAdjust="spacingAndGlyphs">BAG</text>
<circle cx="461.70" cy="12.60" r="2.2" fill="#d2d2d2" stroke="#383838" stroke-width="1.0"/>
<text x="467.10" y="14.80" font-size="7.4" text-anchor="start" fill="#222" textLength="14.1" lengthAdjust="spacingAndGlyphs">+14</text>
<line x1="54.60" y1="258.50" x2="54.60" y2="364.00" stroke="#333" stroke-width="1.3" />
<line x1="51.40" y1="363.30" x2="54.60" y2="363.30" stroke="#333" stroke-width="1.0" />
<text x="47.90" y="365.90" font-size="7.4" text-anchor="end" fill="#222" textLength="4.1" lengthAdjust="spacingAndGlyphs">0</text>
<line x1="51.40" y1="342.54" x2="54.60" y2="342.54" stroke="#333" stroke-width="1.0" />
<text x="47.90" y="345.14" font-size="7.4" text-anchor="end" fill="#222" textLength="8.1" lengthAdjust="spacingAndGlyphs">20</text>
<line x1="51.40" y1="321.78" x2="54.60" y2="321.78" stroke="#333" stroke-width="1.0" />
<text x="47.90" y="324.38" font-size="7.4" text-anchor="end" fill="#222" textLength="8.1" lengthAdjust="spacingAndGlyphs">40</text>
<line x1="51.40" y1="301.02" x2="54.60" y2="301.02" stroke="#333" stroke-width="1.0" />
<text x="47.90" y="303.62" font-size="7.4" text-anchor="end" fill="#222" textLength="8.1" lengthAdjust="spacingAndGlyphs">60</text>
<line x1="51.40" y1="280.26" x2="54.60" y2="280.26" stroke="#333" stroke-width="1.0" />
<text x="47.90" y="282.86" font-size="7.4" text-anchor="end" fill="#222" textLength="8.1" lengthAdjust="spacingAndGlyphs">80</text>
<line x1="51.40" y1="259.50" x2="54.60" y2="259.50" stroke="#333" stroke-width="1.0" />
<text x="47.90" y="262.10" font-size="7.4" text-anchor="end" fill="#222" textLength="12.2" lengthAdjust="spacingAndGlyphs">100</text>
<line x1="54.00" y1="363.80" x2="172.00" y2="363.80" stroke="#333" stroke-width="1.3" />
<line x1="112.90" y1="363.80" x2="112.90" y2="366.00" stroke="#333" stroke-width="1.0" />
<text x="113.10" y="376.90" font-size="7.6" text-anchor="middle" fill="#222" textLength="14.6" lengthAdjust="spacingAndGlyphs">10:1</text>
<text transform="translate(29.3,309.7) rotate(-90)" x="0" y="0" font-size="8.6" text-anchor="middle" fill="#222" style="stroke-width:0.42px" textLength="26" lengthAdjust="spacingAndGlyphs">% Killing</text>
<rect x="62.00" y="308.29" width="11.80" height="54.61" fill="#e5e4eb"/>
<rect x="84.50" y="312.96" width="11.80" height="49.94" fill="#8b95bd"/>
<rect x="107.00" y="317.84" width="11.80" height="45.06" fill="#8b95bd"/>
<rect x="129.50" y="283.58" width="11.80" height="79.32" fill="#f39cc6"/>
<rect x="152.00" y="293.13" width="11.80" height="69.77" fill="#f39cc6"/>
<line x1="67.90" y1="297.59" x2="67.90" y2="318.35" stroke="#d8d8de" stroke-width="1" />
<line x1="65.10" y1="297.59" x2="70.70" y2="297.59" stroke="#d8d8de" stroke-width="1" />
<line x1="65.10" y1="318.35" x2="70.70" y2="318.35" stroke="#d8d8de" stroke-width="1" />
<line x1="90.40" y1="312.96" x2="90.40" y2="312.96" stroke="#1f3f80" stroke-width="1.1" />
<line x1="90.40" y1="294.58" x2="90.40" y2="328.73" stroke="#1f3f80" stroke-width="1.1" />
<line x1="87.40" y1="294.58" x2="93.40" y2="294.58" stroke="#1f3f80" stroke-width="1.1" />
<line x1="87.40" y1="328.73" x2="93.40" y2="328.73" stroke="#1f3f80" stroke-width="1.1" />
<line x1="112.90" y1="317.84" x2="112.90" y2="317.84" stroke="#1f3f80" stroke-width="1.1" />
<line x1="112.90" y1="297.59" x2="112.90" y2="336.83" stroke="#1f3f80" stroke-width="1.1" />
<line x1="109.90" y1="297.59" x2="115.90" y2="297.59" stroke="#1f3f80" stroke-width="1.1" />
<line x1="109.90" y1="336.83" x2="115.90" y2="336.83" stroke="#1f3f80" stroke-width="1.1" />
<line x1="135.40" y1="283.58" x2="135.40" y2="283.58" stroke="#d82a7a" stroke-width="1.1" />
<line x1="135.40" y1="268.53" x2="135.40" y2="297.59" stroke="#d82a7a" stroke-width="1.1" />
<line x1="132.40" y1="268.53" x2="138.40" y2="268.53" stroke="#d82a7a" stroke-width="1.1" />
<line x1="132.40" y1="297.59" x2="138.40" y2="297.59" stroke="#d82a7a" stroke-width="1.1" />
<line x1="157.90" y1="293.13" x2="157.90" y2="293.13" stroke="#d82a7a" stroke-width="1.1" />
<line x1="157.90" y1="268.84" x2="157.90" y2="316.59" stroke="#d82a7a" stroke-width="1.1" />
<line x1="154.90" y1="268.84" x2="160.90" y2="268.84" stroke="#d82a7a" stroke-width="1.1" />
<line x1="154.90" y1="316.59" x2="160.90" y2="316.59" stroke="#d82a7a" stroke-width="1.1" />
<circle cx="65.30" cy="297.00" r="1.0" fill="#d4d4da" stroke="#c4c4cc" stroke-width="0.4"/>
<circle cx="70.30" cy="297.50" r="1.0" fill="#d4d4da" stroke="#c4c4cc" stroke-width="0.4"/>
<circle cx="66.00" cy="301.50" r="1.0" fill="#d4d4da" stroke="#c4c4cc" stroke-width="0.4"/>
<circle cx="70.50" cy="302.70" r="1.0" fill="#d4d4da" stroke="#c4c4cc" stroke-width="0.4"/>
<circle cx="67.90" cy="306.00" r="1.0" fill="#d4d4da" stroke="#c4c4cc" stroke-width="0.4"/>
<circle cx="67.90" cy="318.50" r="1.0" fill="#d4d4da" stroke="#c4c4cc" stroke-width="0.4"/>
<circle cx="67.90" cy="327.00" r="1.0" fill="#d4d4da" stroke="#c4c4cc" stroke-width="0.4"/>
<polygon points="88.70,283.96 92.10,283.96 90.40,281.07" fill="#1f3f80"/>
<polygon points="88.70,308.06 92.10,308.06 90.40,305.17" fill="#1f3f80"/>
<polygon points="88.70,312.76 92.10,312.76 90.40,309.87" fill="#1f3f80"/>
<polygon points="88.70,317.76 92.10,317.76 90.40,314.87" fill="#1f3f80"/>
<polygon points="88.70,326.96 92.10,326.96 90.40,324.07" fill="#1f3f80"/>
<polygon points="88.70,333.76 92.10,333.76 90.40,330.87" fill="#1f3f80"/>
<polygon points="111.20,286.34 114.60,286.34 112.90,289.23" fill="#1f3f80"/>
<polygon points="111.20,312.04 114.60,312.04 112.90,314.93" fill="#1f3f80"/>
<polygon points="106.80,318.84 110.20,318.84 108.50,321.73" fill="#1f3f80"/>
<polygon points="115.60,318.84 119.00,318.84 117.30,321.73" fill="#1f3f80"/>
<polygon points="111.20,341.14 114.60,341.14 112.90,344.03" fill="#1f3f80"/>
<polygon points="130.20,275.04 132.80,275.04 131.50,272.83" fill="#e0307e"/>
<polygon points="137.20,274.54 139.80,274.54 138.50,272.33" fill="#e0307e"/>
<polygon points="134.10,296.04 136.70,296.04 135.40,293.83" fill="#e0307e"/>
<polygon points="131.20,299.04 133.80,299.04 132.50,296.83" fill="#e0307e"/>
<polygon points="136.70,299.04 139.30,299.04 138.00,296.83" fill="#e0307e"/>
<polygon points="134.10,303.04 136.70,303.04 135.40,300.83" fill="#e0307e"/>
<polygon points="152.70,274.46 155.30,274.46 154.00,276.67" fill="#e0307e"/>
<polygon points="159.20,273.96 161.80,273.96 160.50,276.17" fill="#e0307e"/>
<polygon points="156.60,290.96 159.20,290.96 157.90,293.17" fill="#e0307e"/>
<polygon points="156.60,324.96 159.20,324.96 157.90,327.17" fill="#e0307e"/>
<polyline points="68,281 68,212.5 139.5,212.5 139.5,261" fill="none" stroke="#333" stroke-width="1"/>
<polyline points="90.5,272.5 90.5,231.3 136.8,231.3 136.8,258.8" fill="none" stroke="#333" stroke-width="1"/>
<polyline points="113.2,277.5 113.2,247.5 132.5,247.5 132.5,255.5" fill="none" stroke="#333" stroke-width="1"/>
<text x="103.80" y="208.30" font-size="6.6" text-anchor="middle" font-weight="normal" fill="#222" >0.0115</text>
<text x="113.80" y="226.80" font-size="6.6" text-anchor="middle" font-weight="normal" fill="#222" >0.0160</text>
<text x="122.50" y="243.30" font-size="6.6" text-anchor="middle" font-weight="normal" fill="#222" >0.0137</text>
<circle cx="41.20" cy="389.60" r="1.2" fill="#d0d0d8" stroke="#c0c0c8" stroke-width="0.4"/>
<text x="45.80" y="391.80" font-size="7.5" text-anchor="start" fill="#222" textLength="46.2" lengthAdjust="spacingAndGlyphs">CD3<tspan font-size="5.2" dy="-2.9">+</tspan><tspan dy="2.9"> CAR-T</tspan></text>
<polygon points="39.30,402.42 43.10,402.42 41.20,399.19" fill="#1f3f80"/>
<text x="45.80" y="403.30" font-size="7.5" text-anchor="start" fill="#222" textLength="68.8" lengthAdjust="spacingAndGlyphs">CD4<tspan font-size="5.2" dy="-2.9">+</tspan><tspan dy="2.9"> PD-1<tspan font-size="5.2" dy="-2.9">+</tspan><tspan dy="2.9"> CAR-T</tspan></tspan></text>
<polygon points="39.30,410.28 43.10,410.28 41.20,413.51" fill="#1f3f80"/>
<text x="45.80" y="414.30" font-size="7.5" text-anchor="start" fill="#222" textLength="68.8" lengthAdjust="spacingAndGlyphs">CD4<tspan font-size="5.2" dy="-2.9">+</tspan><tspan dy="2.9"> PD-1<tspan font-size="5.2" dy="-2.9">−</tspan><tspan dy="2.9"> CAR-T</tspan></tspan></text>
<polygon points="121.20,402.10 124.20,402.10 122.70,399.55" fill="#e0307e"/>
<text x="128.00" y="403.30" font-size="7.5" text-anchor="start" fill="#222" textLength="74" lengthAdjust="spacingAndGlyphs">CD8<tspan font-size="5.2" dy="-2.9">+</tspan><tspan dy="2.9"> LAG-3<tspan font-size="5.2" dy="-2.9">+</tspan><tspan dy="2.9"> CAR-T</tspan></tspan></text>
<polygon points="121.20,410.60 124.20,410.60 122.70,413.15" fill="#e0307e"/>
<text x="128.00" y="414.30" font-size="7.5" text-anchor="start" fill="#222" textLength="74" lengthAdjust="spacingAndGlyphs">CD8<tspan font-size="5.2" dy="-2.9">+</tspan><tspan dy="2.9"> LAG-3<tspan font-size="5.2" dy="-2.9">−</tspan><tspan dy="2.9"> CAR-T</tspan></tspan></text>
</g>
<g><line x1="371.5" y1="314.3" x2="306.0" y2="220.2" stroke="#f4c870" stroke-width="0.55"/><line x1="371.5" y1="314.3" x2="306.9" y2="219.9" stroke="#f4c870" stroke-width="0.4" stroke-dasharray="1.2,0.8"/><line x1="371.5" y1="314.3" x2="324.0" y2="222.7" stroke="#eea040" stroke-width="0.55"/><line x1="371.5" y1="314.3" x2="324.9" y2="222.4" stroke="#f4c870" stroke-width="0.4" stroke-dasharray="1.2,0.8"/><line x1="371.5" y1="314.3" x2="297.5" y2="234.2" stroke="#f5d060" stroke-width="0.55" stroke-dasharray="1.4,0.7"/><line x1="371.5" y1="314.3" x2="298.4" y2="233.9" stroke="#eea040" stroke-width="0.4" stroke-dasharray="1.2,0.8"/><line x1="371.5" y1="314.3" x2="326.0" y2="237.7" stroke="#f6dc90" stroke-width="0.55"/><line x1="371.5" y1="314.3" x2="326.9" y2="237.4" stroke="#f4c870" stroke-width="0.4" stroke-dasharray="1.2,0.8"/><line x1="371.5" y1="314.3" x2="272.5" y2="248.5" stroke="#f6dc90" stroke-width="0.55" stroke-dasharray="1.4,0.7"/><line x1="371.5" y1="314.3" x2="273.4" y2="248.2" stroke="#e89838" stroke-width="0.4" stroke-dasharray="1.2,0.8"/><line x1="371.5" y1="314.3" x2="288.0" y2="247.6" stroke="#f2c040" stroke-width="0.55" stroke-dasharray="1.4,0.7"/><line x1="371.5" y1="314.3" x2="288.9" y2="247.3" stroke="#f0b8a0" stroke-width="0.4" stroke-dasharray="1.2,0.8"/><line x1="371.5" y1="314.3" x2="325.0" y2="252.5" stroke="#eeb890" stroke-width="0.55" stroke-dasharray="1.4,0.7"/><line x1="371.5" y1="314.3" x2="325.9" y2="252.2" stroke="#f0b8a0" stroke-width="0.4" stroke-dasharray="1.2,0.8"/><line x1="371.5" y1="314.3" x2="287.4" y2="260.9" stroke="#f0b050" stroke-width="0.55" stroke-dasharray="1.4,0.7"/><line x1="371.5" y1="314.3" x2="288.3" y2="260.6" stroke="#f2c040" stroke-width="0.4" stroke-dasharray="1.2,0.8"/><line x1="371.5" y1="314.3" x2="303.3" y2="259.4" stroke="#f4c870" stroke-width="0.55"/><line x1="371.5" y1="314.3" x2="265.3" y2="263.5" stroke="#f8d878" stroke-width="0.55" stroke-dasharray="1.4,0.7"/><line x1="371.5" y1="314.3" x2="266.2" y2="263.2" stroke="#f0b8a0" stroke-width="0.4" stroke-dasharray="1.2,0.8"/><line x1="371.5" y1="314.3" x2="319.6" y2="271.8" stroke="#f5d060" stroke-width="0.55"/><line x1="371.5" y1="314.3" x2="320.5" y2="271.5" stroke="#f5d060" stroke-width="0.4" stroke-dasharray="1.2,0.8"/><line x1="371.5" y1="314.3" x2="286.1" y2="273.5" stroke="#f8d878" stroke-width="0.55" stroke-dasharray="1.4,0.7"/><line x1="371.5" y1="314.3" x2="267.1" y2="278.2" stroke="#f0b8a0" stroke-width="0.55" stroke-dasharray="1.4,0.7"/><line x1="371.5" y1="314.3" x2="268.0" y2="277.9" stroke="#f2c040" stroke-width="0.4" stroke-dasharray="1.2,0.8"/><line x1="371.5" y1="314.3" x2="340.0" y2="214.2" stroke="#ec9080" stroke-width="0.55" stroke-dasharray="1.4,0.7"/><line x1="371.5" y1="314.3" x2="340.9" y2="213.9" stroke="#f0b050" stroke-width="0.4" stroke-dasharray="1.2,0.8"/><line x1="371.5" y1="314.3" x2="366.0" y2="212.2" stroke="#eeb890" stroke-width="0.55" stroke-dasharray="1.4,0.7"/><line x1="371.5" y1="314.3" x2="366.9" y2="211.9" stroke="#eeb890" stroke-width="0.4" stroke-dasharray="1.2,0.8"/><line x1="371.5" y1="314.3" x2="388.7" y2="216.2" stroke="#f5d060" stroke-width="0.55" stroke-dasharray="1.4,0.7"/><line x1="371.5" y1="314.3" x2="389.6" y2="215.9" stroke="#f5d060" stroke-width="0.4" stroke-dasharray="1.2,0.8"/><line x1="371.5" y1="314.3" x2="369.7" y2="227.7" stroke="#f4c870" stroke-width="0.55" stroke-dasharray="1.4,0.7"/><line x1="371.5" y1="314.3" x2="370.6" y2="227.4" stroke="#e89838" stroke-width="0.4" stroke-dasharray="1.2,0.8"/><line x1="371.5" y1="314.3" x2="354.4" y2="234.9" stroke="#f0b8a0" stroke-width="0.55"/><line x1="371.5" y1="314.3" x2="355.3" y2="234.6" stroke="#eea040" stroke-width="0.4" stroke-dasharray="1.2,0.8"/><line x1="371.5" y1="314.3" x2="382.4" y2="233.2" stroke="#f5d060" stroke-width="0.55" stroke-dasharray="1.4,0.7"/><line x1="371.5" y1="314.3" x2="383.3" y2="232.9" stroke="#f0b8a0" stroke-width="0.4" stroke-dasharray="1.2,0.8"/><line x1="371.5" y1="314.3" x2="339.9" y2="238.6" stroke="#f2c040" stroke-width="0.55" stroke-dasharray="1.4,0.7"/><line x1="371.5" y1="314.3" x2="398.7" y2="239.5" stroke="#f2c040" stroke-width="0.55"/><line x1="371.5" y1="314.3" x2="399.6" y2="239.2" stroke="#f0b8a0" stroke-width="0.4" stroke-dasharray="1.2,0.8"/><line x1="371.5" y1="314.3" x2="376.1" y2="248.5" stroke="#f6dc90" stroke-width="0.55" stroke-dasharray="1.4,0.7"/><line x1="371.5" y1="314.3" x2="377.0" y2="248.2" stroke="#f8d878" stroke-width="0.4" stroke-dasharray="1.2,0.8"/><line x1="371.5" y1="314.3" x2="401.4" y2="253.9" stroke="#f5d060" stroke-width="0.55" stroke-dasharray="1.4,0.7"/><line x1="371.5" y1="314.3" x2="402.3" y2="253.6" stroke="#f0b050" stroke-width="0.4" stroke-dasharray="1.2,0.8"/><line x1="371.5" y1="314.3" x2="347.1" y2="263.0" stroke="#eeb890" stroke-width="0.55"/><line x1="371.5" y1="314.3" x2="361.6" y2="260.3" stroke="#f6dc90" stroke-width="0.55" stroke-dasharray="1.4,0.7"/><line x1="371.5" y1="314.3" x2="362.5" y2="260.0" stroke="#ec9080" stroke-width="0.4" stroke-dasharray="1.2,0.8"/><line x1="371.5" y1="314.3" x2="389.6" y2="258.4" stroke="#f8d878" stroke-width="0.55"/><line x1="371.5" y1="314.3" x2="390.5" y2="258.1" stroke="#f6dc90" stroke-width="0.4" stroke-dasharray="1.2,0.8"/><line x1="371.5" y1="314.3" x2="334.5" y2="266.6" stroke="#eea040" stroke-width="0.55"/><line x1="371.5" y1="314.3" x2="335.4" y2="266.3" stroke="#e89838" stroke-width="0.4" stroke-dasharray="1.2,0.8"/><line x1="371.5" y1="314.3" x2="384.2" y2="271.1" stroke="#f4c870" stroke-width="0.55"/><line x1="371.5" y1="314.3" x2="385.1" y2="270.8" stroke="#ec9080" stroke-width="0.4" stroke-dasharray="1.2,0.8"/><line x1="371.5" y1="314.3" x2="373.3" y2="276.5" stroke="#b0c0e0" stroke-width="0.55"/><line x1="371.5" y1="314.3" x2="374.2" y2="276.2" stroke="#f8d878" stroke-width="0.4" stroke-dasharray="1.2,0.8"/><line x1="371.5" y1="314.3" x2="336.3" y2="280.2" stroke="#f8d878" stroke-width="0.55" stroke-dasharray="1.4,0.7"/><line x1="371.5" y1="314.3" x2="337.2" y2="279.9" stroke="#f6dc90" stroke-width="0.4" stroke-dasharray="1.2,0.8"/><line x1="371.5" y1="314.3" x2="410.8" y2="223.2" stroke="#eea040" stroke-width="0.55"/><line x1="371.5" y1="314.3" x2="411.7" y2="222.9" stroke="#f5d060" stroke-width="0.4" stroke-dasharray="1.2,0.8"/><line x1="371.5" y1="314.3" x2="416.3" y2="243.1" stroke="#e89838" stroke-width="0.55"/><line x1="371.5" y1="314.3" x2="417.2" y2="242.8" stroke="#f6dc90" stroke-width="0.4" stroke-dasharray="1.2,0.8"/><line x1="371.5" y1="314.3" x2="431.6" y2="240.4" stroke="#f0b8a0" stroke-width="0.55"/><line x1="371.5" y1="314.3" x2="446.1" y2="249.4" stroke="#f8d878" stroke-width="0.55" stroke-dasharray="1.4,0.7"/><line x1="371.5" y1="314.3" x2="447.0" y2="249.1" stroke="#f0b8a0" stroke-width="0.4" stroke-dasharray="1.2,0.8"/><line x1="371.5" y1="314.3" x2="415.4" y2="261.2" stroke="#f8d878" stroke-width="0.55" stroke-dasharray="1.4,0.7"/><line x1="371.5" y1="314.3" x2="428.9" y2="261.2" stroke="#eeb890" stroke-width="0.55" stroke-dasharray="1.4,0.7"/><line x1="371.5" y1="314.3" x2="408.1" y2="275.9" stroke="#c8dcb0" stroke-width="0.55"/><line x1="371.5" y1="314.3" x2="409.0" y2="275.6" stroke="#f6dc90" stroke-width="0.4" stroke-dasharray="1.2,0.8"/><line x1="371.5" y1="314.3" x2="440.7" y2="270.2" stroke="#f2c040" stroke-width="0.55" stroke-dasharray="1.4,0.7"/><line x1="371.5" y1="314.3" x2="456.1" y2="275.0" stroke="#b0c0e0" stroke-width="0.55"/><line x1="371.5" y1="314.3" x2="457.0" y2="274.7" stroke="#f5d060" stroke-width="0.4" stroke-dasharray="1.2,0.8"/><line x1="371.5" y1="314.3" x2="471.4" y2="279.7" stroke="#f8d878" stroke-width="0.55" stroke-dasharray="1.4,0.7"/><line x1="371.5" y1="314.3" x2="472.3" y2="279.4" stroke="#f5d060" stroke-width="0.4" stroke-dasharray="1.2,0.8"/><line x1="371.5" y1="314.3" x2="294.2" y2="288.7" stroke="#eeb890" stroke-width="0.55"/><line x1="371.5" y1="314.3" x2="313.2" y2="289.0" stroke="#eeb890" stroke-width="0.55" stroke-dasharray="1.4,0.7"/><line x1="371.5" y1="314.3" x2="252.7" y2="295.9" stroke="#ec9080" stroke-width="0.55"/><line x1="371.5" y1="314.3" x2="272.5" y2="293.2" stroke="#f6dc90" stroke-width="0.55"/><line x1="371.5" y1="314.3" x2="273.4" y2="292.9" stroke="#ec9080" stroke-width="0.4" stroke-dasharray="1.2,0.8"/><line x1="371.5" y1="314.3" x2="295.2" y2="303.1" stroke="#f5d060" stroke-width="0.55" stroke-dasharray="1.4,0.7"/><line x1="371.5" y1="314.3" x2="312.3" y2="307.0" stroke="#ec9080" stroke-width="0.55"/><line x1="371.5" y1="314.3" x2="325.0" y2="312.5" stroke="#f6dc90" stroke-width="0.55" stroke-dasharray="1.4,0.7"/><line x1="371.5" y1="314.3" x2="281.6" y2="306.4" stroke="#f5d060" stroke-width="0.55"/><line x1="371.5" y1="314.3" x2="282.5" y2="306.1" stroke="#e89838" stroke-width="0.4" stroke-dasharray="1.2,0.8"/><line x1="371.5" y1="314.3" x2="248.1" y2="316.2" stroke="#f4c870" stroke-width="0.55" stroke-dasharray="1.4,0.7"/><line x1="371.5" y1="314.3" x2="249.0" y2="315.9" stroke="#f5d060" stroke-width="0.4" stroke-dasharray="1.2,0.8"/><line x1="371.5" y1="314.3" x2="266.2" y2="322.1" stroke="#f8d878" stroke-width="0.55"/><line x1="371.5" y1="314.3" x2="267.1" y2="321.8" stroke="#eeb890" stroke-width="0.4" stroke-dasharray="1.2,0.8"/><line x1="371.5" y1="314.3" x2="281.6" y2="318.5" stroke="#e89838" stroke-width="0.55" stroke-dasharray="1.4,0.7"/><line x1="371.5" y1="314.3" x2="282.5" y2="318.2" stroke="#eeb890" stroke-width="0.4" stroke-dasharray="1.2,0.8"/><line x1="371.5" y1="314.3" x2="297.9" y2="316.2" stroke="#f4c870" stroke-width="0.55"/><line x1="371.5" y1="314.3" x2="298.8" y2="315.9" stroke="#eeb890" stroke-width="0.4" stroke-dasharray="1.2,0.8"/><line x1="371.5" y1="314.3" x2="310.5" y2="320.1" stroke="#f0b8a0" stroke-width="0.55"/><line x1="371.5" y1="314.3" x2="296.1" y2="328.4" stroke="#ec9080" stroke-width="0.55" stroke-dasharray="1.4,0.7"/><line x1="371.5" y1="314.3" x2="297.0" y2="328.1" stroke="#eeb890" stroke-width="0.4" stroke-dasharray="1.2,0.8"/><line x1="371.5" y1="314.3" x2="246.3" y2="338.4" stroke="#f4c870" stroke-width="0.55" stroke-dasharray="1.4,0.7"/><line x1="371.5" y1="314.3" x2="261.7" y2="343.8" stroke="#eea040" stroke-width="0.55" stroke-dasharray="1.4,0.7"/><line x1="371.5" y1="314.3" x2="262.6" y2="343.5" stroke="#f4c870" stroke-width="0.4" stroke-dasharray="1.2,0.8"/><line x1="371.5" y1="314.3" x2="281.6" y2="335.7" stroke="#f0b8a0" stroke-width="0.55"/><line x1="371.5" y1="314.3" x2="282.5" y2="335.4" stroke="#ec9080" stroke-width="0.4" stroke-dasharray="1.2,0.8"/><line x1="371.5" y1="314.3" x2="311.4" y2="347.2" stroke="#f0b050" stroke-width="0.55" stroke-dasharray="1.4,0.7"/><line x1="371.5" y1="314.3" x2="312.3" y2="346.9" stroke="#f6dc90" stroke-width="0.4" stroke-dasharray="1.2,0.8"/><line x1="371.5" y1="314.3" x2="325.0" y2="338.4" stroke="#f5d060" stroke-width="0.55"/><line x1="371.5" y1="314.3" x2="348.9" y2="287.8" stroke="#f0b050" stroke-width="0.55"/><line x1="371.5" y1="314.3" x2="349.8" y2="287.5" stroke="#f6dc90" stroke-width="0.4" stroke-dasharray="1.2,0.8"/><line x1="371.5" y1="314.3" x2="336.3" y2="293.5" stroke="#f0b050" stroke-width="0.55" stroke-dasharray="1.4,0.7"/><line x1="371.5" y1="314.3" x2="337.2" y2="293.2" stroke="#f4c870" stroke-width="0.4" stroke-dasharray="1.2,0.8"/><line x1="371.5" y1="314.3" x2="362.5" y2="296.2" stroke="#f8d878" stroke-width="0.55" stroke-dasharray="1.4,0.7"/><line x1="371.5" y1="314.3" x2="376.1" y2="297.7" stroke="#f0b050" stroke-width="0.55" stroke-dasharray="1.4,0.7"/><line x1="371.5" y1="314.3" x2="377.0" y2="297.4" stroke="#f5d060" stroke-width="0.4" stroke-dasharray="1.2,0.8"/><line x1="371.5" y1="314.3" x2="389.6" y2="292.3" stroke="#f5d060" stroke-width="0.55"/><line x1="371.5" y1="314.3" x2="405.0" y2="293.2" stroke="#eea040" stroke-width="0.55"/><line x1="371.5" y1="314.3" x2="405.9" y2="292.9" stroke="#f4c870" stroke-width="0.4" stroke-dasharray="1.2,0.8"/><line x1="371.5" y1="314.3" x2="338.1" y2="311.3" stroke="#eea040" stroke-width="0.55" stroke-dasharray="1.4,0.7"/><line x1="371.5" y1="314.3" x2="339.0" y2="311.0" stroke="#eeb890" stroke-width="0.4" stroke-dasharray="1.2,0.8"/><line x1="371.5" y1="314.3" x2="355.8" y2="317.9" stroke="#e89838" stroke-width="0.55"/><line x1="371.5" y1="314.3" x2="356.7" y2="317.6" stroke="#eea040" stroke-width="0.4" stroke-dasharray="1.2,0.8"/><line x1="371.5" y1="314.3" x2="385.1" y2="313.1" stroke="#f0b8a0" stroke-width="0.55" stroke-dasharray="1.4,0.7"/><line x1="371.5" y1="314.3" x2="386.0" y2="312.8" stroke="#ec9080" stroke-width="0.4" stroke-dasharray="1.2,0.8"/><line x1="371.5" y1="314.3" x2="399.6" y2="309.5" stroke="#f0b8a0" stroke-width="0.55"/><line x1="371.5" y1="314.3" x2="400.5" y2="309.2" stroke="#f2c040" stroke-width="0.4" stroke-dasharray="1.2,0.8"/><line x1="371.5" y1="314.3" x2="399.6" y2="315.8" stroke="#eeb890" stroke-width="0.55" stroke-dasharray="1.4,0.7"/><line x1="371.5" y1="314.3" x2="335.4" y2="330.3" stroke="#f0b050" stroke-width="0.55"/><line x1="371.5" y1="314.3" x2="336.3" y2="330.0" stroke="#f5d060" stroke-width="0.4" stroke-dasharray="1.2,0.8"/><line x1="371.5" y1="314.3" x2="368.8" y2="334.8" stroke="#f5d060" stroke-width="0.55"/><line x1="371.5" y1="314.3" x2="393.2" y2="332.0" stroke="#f8d878" stroke-width="0.55"/><line x1="371.5" y1="314.3" x2="394.1" y2="331.7" stroke="#f2c040" stroke-width="0.4" stroke-dasharray="1.2,0.8"/><line x1="371.5" y1="314.3" x2="354.4" y2="341.4" stroke="#f5d060" stroke-width="0.55" stroke-dasharray="1.4,0.7"/><line x1="371.5" y1="314.3" x2="355.3" y2="341.1" stroke="#eeb890" stroke-width="0.4" stroke-dasharray="1.2,0.8"/><line x1="371.5" y1="314.3" x2="339.0" y2="343.2" stroke="#f8d878" stroke-width="0.55" stroke-dasharray="1.4,0.7"/><line x1="371.5" y1="314.3" x2="339.9" y2="342.9" stroke="#f2c040" stroke-width="0.4" stroke-dasharray="1.2,0.8"/><line x1="371.5" y1="314.3" x2="382.4" y2="347.4" stroke="#f5d060" stroke-width="0.55" stroke-dasharray="1.4,0.7"/><line x1="371.5" y1="314.3" x2="383.3" y2="347.1" stroke="#f2c040" stroke-width="0.4" stroke-dasharray="1.2,0.8"/><line x1="371.5" y1="314.3" x2="402.3" y2="353.5" stroke="#f0b050" stroke-width="0.55"/><line x1="371.5" y1="314.3" x2="403.2" y2="353.2" stroke="#eea040" stroke-width="0.4" stroke-dasharray="1.2,0.8"/><line x1="371.5" y1="314.3" x2="436.2" y2="292.3" stroke="#e89838" stroke-width="0.55"/><line x1="371.5" y1="314.3" x2="420.8" y2="301.3" stroke="#f4c870" stroke-width="0.55"/><line x1="371.5" y1="314.3" x2="451.5" y2="301.0" stroke="#c8dcb0" stroke-width="0.55"/><line x1="371.5" y1="314.3" x2="464.2" y2="300.4" stroke="#f0b050" stroke-width="0.55" stroke-dasharray="1.4,0.7"/><line x1="371.5" y1="314.3" x2="477.8" y2="306.4" stroke="#b0c0e0" stroke-width="0.55" stroke-dasharray="1.4,0.7"/><line x1="371.5" y1="314.3" x2="426.8" y2="314.3" stroke="#b0c0e0" stroke-width="0.55"/><line x1="371.5" y1="314.3" x2="427.7" y2="314.0" stroke="#e89838" stroke-width="0.4" stroke-dasharray="1.2,0.8"/><line x1="371.5" y1="314.3" x2="448.8" y2="317.2" stroke="#c8dcb0" stroke-width="0.55" stroke-dasharray="1.4,0.7"/><line x1="371.5" y1="314.3" x2="449.7" y2="316.9" stroke="#ec9080" stroke-width="0.4" stroke-dasharray="1.2,0.8"/><line x1="371.5" y1="314.3" x2="413.6" y2="328.1" stroke="#f2c040" stroke-width="0.55"/><line x1="371.5" y1="314.3" x2="414.5" y2="327.8" stroke="#f2c040" stroke-width="0.4" stroke-dasharray="1.2,0.8"/><line x1="371.5" y1="314.3" x2="432.5" y2="329.4" stroke="#e89838" stroke-width="0.55"/><line x1="371.5" y1="314.3" x2="451.5" y2="335.7" stroke="#f4c870" stroke-width="0.55" stroke-dasharray="1.4,0.7"/><line x1="371.5" y1="314.3" x2="452.4" y2="335.4" stroke="#eea040" stroke-width="0.4" stroke-dasharray="1.2,0.8"/><line x1="371.5" y1="314.3" x2="466.9" y2="330.9" stroke="#c8dcb0" stroke-width="0.55" stroke-dasharray="1.4,0.7"/><line x1="371.5" y1="314.3" x2="467.8" y2="330.6" stroke="#ec9080" stroke-width="0.4" stroke-dasharray="1.2,0.8"/><line x1="371.5" y1="314.3" x2="415.8" y2="349.2" stroke="#b0c0e0" stroke-width="0.55" stroke-dasharray="1.4,0.7"/><line x1="371.5" y1="314.3" x2="416.7" y2="348.9" stroke="#eeb890" stroke-width="0.4" stroke-dasharray="1.2,0.8"/><line x1="371.5" y1="314.3" x2="430.7" y2="348.7" stroke="#e89838" stroke-width="0.55" stroke-dasharray="1.4,0.7"/><line x1="371.5" y1="314.3" x2="431.6" y2="348.4" stroke="#f0b8a0" stroke-width="0.4" stroke-dasharray="1.2,0.8"/><line x1="371.5" y1="314.3" x2="446.1" y2="350.2" stroke="#f8d878" stroke-width="0.55" stroke-dasharray="1.4,0.7"/><line x1="371.5" y1="314.3" x2="447.0" y2="349.9" stroke="#f2c040" stroke-width="0.4" stroke-dasharray="1.2,0.8"/><line x1="371.5" y1="314.3" x2="463.2" y2="361.2" stroke="#f0b8a0" stroke-width="0.55" stroke-dasharray="1.4,0.7"/><line x1="371.5" y1="314.3" x2="464.1" y2="360.9" stroke="#f8d878" stroke-width="0.4" stroke-dasharray="1.2,0.8"/><line x1="371.5" y1="314.3" x2="438.4" y2="365.6" stroke="#f0b8a0" stroke-width="0.55"/><line x1="371.5" y1="314.3" x2="439.3" y2="365.3" stroke="#f5d060" stroke-width="0.4" stroke-dasharray="1.2,0.8"/><line x1="371.5" y1="314.3" x2="404.5" y2="372.7" stroke="#e89838" stroke-width="0.55"/><line x1="371.5" y1="314.3" x2="419.2" y2="377.6" stroke="#b0c0e0" stroke-width="0.55" stroke-dasharray="1.4,0.7"/><line x1="371.5" y1="314.3" x2="420.1" y2="377.3" stroke="#f0b050" stroke-width="0.4" stroke-dasharray="1.2,0.8"/><line x1="371.5" y1="314.3" x2="432.7" y2="380.3" stroke="#f6dc90" stroke-width="0.55" stroke-dasharray="1.4,0.7"/><line x1="371.5" y1="314.3" x2="449.7" y2="381.4" stroke="#f0b050" stroke-width="0.55" stroke-dasharray="1.4,0.7"/><line x1="371.5" y1="314.3" x2="410.2" y2="391.9" stroke="#f0b8a0" stroke-width="0.55"/><line x1="371.5" y1="314.3" x2="433.9" y2="398.8" stroke="#eea040" stroke-width="0.55" stroke-dasharray="1.4,0.7"/><line x1="371.5" y1="314.3" x2="411.3" y2="405.2" stroke="#f0b8a0" stroke-width="0.55"/><line x1="371.5" y1="314.3" x2="409.0" y2="423.2" stroke="#f0b8a0" stroke-width="0.55" stroke-dasharray="1.4,0.7"/><line x1="371.5" y1="314.3" x2="409.9" y2="422.9" stroke="#f5d060" stroke-width="0.4" stroke-dasharray="1.2,0.8"/><line x1="371.5" y1="314.3" x2="277.2" y2="353.2" stroke="#ec9080" stroke-width="0.55"/><line x1="371.5" y1="314.3" x2="278.1" y2="352.9" stroke="#ec9080" stroke-width="0.4" stroke-dasharray="1.2,0.8"/><line x1="371.5" y1="314.3" x2="258.1" y2="365.6" stroke="#f0b8a0" stroke-width="0.55" stroke-dasharray="1.4,0.7"/><line x1="371.5" y1="314.3" x2="294.2" y2="360.3" stroke="#f0b8a0" stroke-width="0.55"/><line x1="371.5" y1="314.3" x2="277.2" y2="370.2" stroke="#eeb890" stroke-width="0.55" stroke-dasharray="1.4,0.7"/><line x1="371.5" y1="314.3" x2="278.1" y2="369.9" stroke="#e89838" stroke-width="0.4" stroke-dasharray="1.2,0.8"/><line x1="371.5" y1="314.3" x2="310.0" y2="365.6" stroke="#e89838" stroke-width="0.55"/><line x1="371.5" y1="314.3" x2="325.8" y2="362.2" stroke="#f5d060" stroke-width="0.55" stroke-dasharray="1.4,0.7"/><line x1="371.5" y1="314.3" x2="326.7" y2="361.9" stroke="#e89838" stroke-width="0.4" stroke-dasharray="1.2,0.8"/><line x1="371.5" y1="314.3" x2="296.4" y2="373.5" stroke="#eea040" stroke-width="0.55" stroke-dasharray="1.4,0.7"/><line x1="371.5" y1="314.3" x2="297.3" y2="373.2" stroke="#f5d060" stroke-width="0.4" stroke-dasharray="1.2,0.8"/><line x1="371.5" y1="314.3" x2="276.1" y2="382.6" stroke="#f8d878" stroke-width="0.55"/><line x1="371.5" y1="314.3" x2="277.0" y2="382.3" stroke="#f5d060" stroke-width="0.4" stroke-dasharray="1.2,0.8"/><line x1="371.5" y1="314.3" x2="317.9" y2="388.5" stroke="#f0b050" stroke-width="0.55" stroke-dasharray="1.4,0.7"/><line x1="371.5" y1="314.3" x2="318.8" y2="388.2" stroke="#f5d060" stroke-width="0.4" stroke-dasharray="1.2,0.8"/><line x1="371.5" y1="314.3" x2="297.6" y2="389.3" stroke="#f4c870" stroke-width="0.55" stroke-dasharray="1.4,0.7"/><line x1="371.5" y1="314.3" x2="298.5" y2="389.0" stroke="#eeb890" stroke-width="0.4" stroke-dasharray="1.2,0.8"/><line x1="371.5" y1="314.3" x2="281.8" y2="401.8" stroke="#f2c040" stroke-width="0.55"/><line x1="371.5" y1="314.3" x2="304.3" y2="407.4" stroke="#ec9080" stroke-width="0.55" stroke-dasharray="1.4,0.7"/><line x1="371.5" y1="314.3" x2="305.2" y2="407.1" stroke="#eeb890" stroke-width="0.4" stroke-dasharray="1.2,0.8"/><line x1="371.5" y1="314.3" x2="311.1" y2="420.9" stroke="#f6dc90" stroke-width="0.55" stroke-dasharray="1.4,0.7"/><line x1="371.5" y1="314.3" x2="325.8" y2="419.8" stroke="#f5d060" stroke-width="0.55"/><line x1="371.5" y1="314.3" x2="342.6" y2="357.7" stroke="#e89838" stroke-width="0.55"/><line x1="371.5" y1="314.3" x2="359.5" y2="360.0" stroke="#f8d878" stroke-width="0.55"/><line x1="371.5" y1="314.3" x2="374.2" y2="361.1" stroke="#eea040" stroke-width="0.55"/><line x1="371.5" y1="314.3" x2="375.1" y2="360.8" stroke="#e89838" stroke-width="0.4" stroke-dasharray="1.2,0.8"/><line x1="371.5" y1="314.3" x2="387.7" y2="360.0" stroke="#eea040" stroke-width="0.55" stroke-dasharray="1.4,0.7"/><line x1="371.5" y1="314.3" x2="388.6" y2="359.7" stroke="#eea040" stroke-width="0.4" stroke-dasharray="1.2,0.8"/><line x1="371.5" y1="314.3" x2="342.6" y2="373.5" stroke="#f8d878" stroke-width="0.55" stroke-dasharray="1.4,0.7"/><line x1="371.5" y1="314.3" x2="357.2" y2="376.9" stroke="#f0b8a0" stroke-width="0.55" stroke-dasharray="1.4,0.7"/><line x1="371.5" y1="314.3" x2="358.1" y2="376.6" stroke="#f0b050" stroke-width="0.4" stroke-dasharray="1.2,0.8"/><line x1="371.5" y1="314.3" x2="372.4" y2="377.2" stroke="#f0b050" stroke-width="0.55" stroke-dasharray="1.4,0.7"/><line x1="371.5" y1="314.3" x2="373.3" y2="376.9" stroke="#eea040" stroke-width="0.4" stroke-dasharray="1.2,0.8"/><line x1="371.5" y1="314.3" x2="386.6" y2="379.2" stroke="#ec9080" stroke-width="0.55"/><line x1="371.5" y1="314.3" x2="387.5" y2="378.9" stroke="#f4c870" stroke-width="0.4" stroke-dasharray="1.2,0.8"/><line x1="371.5" y1="314.3" x2="335.8" y2="391.6" stroke="#ec9080" stroke-width="0.55"/><line x1="371.5" y1="314.3" x2="336.7" y2="391.3" stroke="#f2c040" stroke-width="0.4" stroke-dasharray="1.2,0.8"/><line x1="371.5" y1="314.3" x2="362.9" y2="390.5" stroke="#f0b8a0" stroke-width="0.55" stroke-dasharray="1.4,0.7"/><line x1="371.5" y1="314.3" x2="363.8" y2="390.2" stroke="#ec9080" stroke-width="0.4" stroke-dasharray="1.2,0.8"/><line x1="371.5" y1="314.3" x2="378.7" y2="399.5" stroke="#f0b050" stroke-width="0.55" stroke-dasharray="1.4,0.7"/><line x1="371.5" y1="314.3" x2="379.6" y2="399.2" stroke="#f5d060" stroke-width="0.4" stroke-dasharray="1.2,0.8"/><line x1="371.5" y1="314.3" x2="393.4" y2="399.8" stroke="#eeb890" stroke-width="0.55"/><line x1="371.5" y1="314.3" x2="394.3" y2="399.5" stroke="#e89838" stroke-width="0.4" stroke-dasharray="1.2,0.8"/><line x1="371.5" y1="314.3" x2="332.4" y2="406.3" stroke="#e89838" stroke-width="0.55"/><line x1="371.5" y1="314.3" x2="333.3" y2="406.0" stroke="#f5d060" stroke-width="0.4" stroke-dasharray="1.2,0.8"/><line x1="371.5" y1="314.3" x2="356.1" y2="405.5" stroke="#e89838" stroke-width="0.55"/><line x1="371.5" y1="314.3" x2="357.0" y2="405.2" stroke="#f2c040" stroke-width="0.4" stroke-dasharray="1.2,0.8"/><line x1="371.5" y1="314.3" x2="357.2" y2="419.0" stroke="#eea040" stroke-width="0.55" stroke-dasharray="1.4,0.7"/><line x1="371.5" y1="314.3" x2="374.2" y2="423.1" stroke="#e89838" stroke-width="0.55"/><line x1="371.5" y1="314.3" x2="375.1" y2="422.8" stroke="#f2c040" stroke-width="0.4" stroke-dasharray="1.2,0.8"/><line x1="371.5" y1="314.3" x2="391.1" y2="425.0" stroke="#f4c870" stroke-width="0.55" stroke-dasharray="1.4,0.7"/><line x1="371.5" y1="314.3" x2="392.0" y2="424.7" stroke="#e89838" stroke-width="0.4" stroke-dasharray="1.2,0.8"/><line x1="371.5" y1="314.3" x2="342.6" y2="428.9" stroke="#eeb890" stroke-width="0.55"/><line x1="371.5" y1="314.3" x2="343.5" y2="428.6" stroke="#f4c870" stroke-width="0.4" stroke-dasharray="1.2,0.8"/><line x1="371.5" y1="314.3" x2="359.5" y2="435.6" stroke="#f8d878" stroke-width="0.55"/><line x1="371.5" y1="314.3" x2="360.4" y2="435.3" stroke="#f8d878" stroke-width="0.4" stroke-dasharray="1.2,0.8"/></g>
<defs><radialGradient id="glow"><stop offset="0" stop-color="#e8a818" stop-opacity="0.85"/><stop offset="0.5" stop-color="#f0b828" stop-opacity="0.45"/><stop offset="1" stop-color="#f5c840" stop-opacity="0"/></radialGradient></defs><circle cx="371.5" cy="314.3" r="9" fill="url(#glow)"/>
<g><path d="M268.20,244.00 Q272.50,239.40 276.80,244.00 Q272.50,248.60 268.20,244.00Z" fill="#7ab888" opacity="0.45"/><path d="M268.90,244.00 Q272.50,240.60 276.10,244.00 Q272.50,247.40 268.90,244.00Z" fill="#2f7040"/><ellipse cx="272.50" cy="243.80" rx="1.62" ry="0.77" fill="#7ab888" opacity="0.6"/><path d="M320.70,248.00 Q325.00,243.40 329.30,248.00 Q325.00,252.60 320.70,248.00Z" fill="#7ab888" opacity="0.45"/><path d="M321.40,248.00 Q325.00,244.60 328.60,248.00 Q325.00,251.40 321.40,248.00Z" fill="#2f7040"/><ellipse cx="325.00" cy="247.80" rx="1.62" ry="0.77" fill="#7ab888" opacity="0.6"/><path d="M282.90,256.40 Q287.40,251.80 291.90,256.40 Q287.40,261.00 282.90,256.40Z" fill="#c8a070" opacity="0.45"/><path d="M283.60,256.40 Q287.40,253.00 291.20,256.40 Q287.40,259.80 283.60,256.40Z" fill="#9a6a3a"/><ellipse cx="287.40" cy="256.20" rx="1.71" ry="0.77" fill="#c8a070" opacity="0.6"/><polygon points="319.6,262.1 321.40000000000003,265.5 324.00000000000006,267.3 321.40000000000003,269.1 319.6,272.5 317.8,269.1 315.2,267.3 317.8,265.5" fill="#7ab888" opacity="0.45"/><polygon points="319.6,262.90000000000003 320.8,266.1 323.20000000000005,267.3 320.8,268.5 319.6,271.7 318.40000000000003,268.5 316.0,267.3 318.40000000000003,266.1" fill="#2f7a40"/><circle cx="319.6" cy="267.3" r="1.3" fill="#2f7a40"/><path d="M403.80,271.40 Q408.10,266.80 412.40,271.40 Q408.10,276.00 403.80,271.40Z" fill="#7ab888" opacity="0.45"/><path d="M404.50,271.40 Q408.10,268.00 411.70,271.40 Q408.10,274.80 404.50,271.40Z" fill="#2f7040"/><ellipse cx="408.10" cy="271.20" rx="1.62" ry="0.77" fill="#7ab888" opacity="0.6"/><polygon points="456.1,265.3 457.90000000000003,268.7 460.50000000000006,270.5 457.90000000000003,272.3 456.1,275.7 454.3,272.3 451.7,270.5 454.3,268.7" fill="#7ab888" opacity="0.45"/><polygon points="456.1,266.1 457.3,269.3 459.70000000000005,270.5 457.3,271.7 456.1,274.9 454.90000000000003,271.7 452.5,270.5 454.90000000000003,269.3" fill="#2f7a40"/><circle cx="456.1" cy="270.5" r="1.3" fill="#2f7a40"/><polygon points="313.2,279.3 315.0,282.7 317.6,284.5 315.0,286.3 313.2,289.7 311.4,286.3 308.79999999999995,284.5 311.4,282.7" fill="#7ab888" opacity="0.45"/><polygon points="313.2,280.1 314.4,283.3 316.8,284.5 314.4,285.7 313.2,288.9 312.0,285.7 309.59999999999997,284.5 312.0,283.3" fill="#2f7a40"/><circle cx="313.2" cy="284.5" r="1.3" fill="#2f7a40"/><path d="M290.30,298.60 Q295.20,293.80 300.10,298.60 Q295.20,303.40 290.30,298.60Z" fill="#d08a80" opacity="0.45"/><path d="M291.00,298.60 Q295.20,295.00 299.40,298.60 Q295.20,302.20 291.00,298.60Z" fill="#a8463a"/><ellipse cx="295.20" cy="298.40" rx="1.89" ry="0.81" fill="#d08a80" opacity="0.6"/><path d="M308.00,302.50 Q312.30,297.90 316.60,302.50 Q312.30,307.10 308.00,302.50Z" fill="#7ab888" opacity="0.45"/><path d="M308.70,302.50 Q312.30,299.10 315.90,302.50 Q312.30,305.90 308.70,302.50Z" fill="#2f7040"/><ellipse cx="312.30" cy="302.30" rx="1.62" ry="0.77" fill="#7ab888" opacity="0.6"/><path d="M320.70,308.00 Q325.00,303.40 329.30,308.00 Q325.00,312.60 320.70,308.00Z" fill="#7ab888" opacity="0.45"/><path d="M321.40,308.00 Q325.00,304.60 328.60,308.00 Q325.00,311.40 321.40,308.00Z" fill="#2f7040"/><ellipse cx="325.00" cy="307.80" rx="1.62" ry="0.77" fill="#7ab888" opacity="0.6"/><path d="M305.60,315.60 Q310.50,310.80 315.40,315.60 Q310.50,320.40 305.60,315.60Z" fill="#d08a80" opacity="0.45"/><path d="M306.30,315.60 Q310.50,312.00 314.70,315.60 Q310.50,319.20 306.30,315.60Z" fill="#a8463a"/><ellipse cx="310.50" cy="315.40" rx="1.89" ry="0.81" fill="#d08a80" opacity="0.6"/><path d="M257.40,339.30 Q261.70,334.70 266.00,339.30 Q261.70,343.90 257.40,339.30Z" fill="#7ab888" opacity="0.45"/><path d="M258.10,339.30 Q261.70,335.90 265.30,339.30 Q261.70,342.70 258.10,339.30Z" fill="#2f7040"/><ellipse cx="261.70" cy="339.10" rx="1.62" ry="0.77" fill="#7ab888" opacity="0.6"/><path d="M307.10,342.70 Q311.40,338.10 315.70,342.70 Q311.40,347.30 307.10,342.70Z" fill="#7ab888" opacity="0.45"/><path d="M307.80,342.70 Q311.40,339.30 315.00,342.70 Q311.40,346.10 307.80,342.70Z" fill="#2f7040"/><ellipse cx="311.40" cy="342.50" rx="1.62" ry="0.77" fill="#7ab888" opacity="0.6"/><path d="M332.00,289.00 Q336.30,284.40 340.60,289.00 Q336.30,293.60 332.00,289.00Z" fill="#7ab888" opacity="0.45"/><path d="M332.70,289.00 Q336.30,285.60 339.90,289.00 Q336.30,292.40 332.70,289.00Z" fill="#2f7040"/><ellipse cx="336.30" cy="288.80" rx="1.62" ry="0.77" fill="#7ab888" opacity="0.6"/><path d="M358.20,291.70 Q362.50,287.10 366.80,291.70 Q362.50,296.30 358.20,291.70Z" fill="#7ab888" opacity="0.45"/><path d="M358.90,291.70 Q362.50,288.30 366.10,291.70 Q362.50,295.10 358.90,291.70Z" fill="#2f7040"/><ellipse cx="362.50" cy="291.50" rx="1.62" ry="0.77" fill="#7ab888" opacity="0.6"/><polygon points="355.8,308.2 357.6,311.59999999999997 360.20000000000005,313.4 357.6,315.2 355.8,318.59999999999997 354.0,315.2 351.4,313.4 354.0,311.59999999999997" fill="#7ab888" opacity="0.45"/><polygon points="355.8,309.0 357.0,312.2 359.40000000000003,313.4 357.0,314.59999999999997 355.8,317.79999999999995 354.6,314.59999999999997 352.2,313.4 354.6,312.2" fill="#2f7a40"/><circle cx="355.8" cy="313.4" r="1.3" fill="#2f7a40"/><path d="M388.30,327.50 Q393.20,322.70 398.10,327.50 Q393.20,332.30 388.30,327.50Z" fill="#d08a80" opacity="0.45"/><path d="M389.00,327.50 Q393.20,323.90 397.40,327.50 Q393.20,331.10 389.00,327.50Z" fill="#a8463a"/><ellipse cx="393.20" cy="327.30" rx="1.89" ry="0.81" fill="#d08a80" opacity="0.6"/><rect x="352.2" y="333.5" width="4.4" height="6.8" rx="1.4" fill="#3a8a44"/><rect x="353.4" y="334.3" width="2.0" height="5.2" rx="0.8" fill="#7cc08a" opacity="0.6"/><path d="M334.70,338.70 Q339.00,334.10 343.30,338.70 Q339.00,343.30 334.70,338.70Z" fill="#7ab888" opacity="0.45"/><path d="M335.40,338.70 Q339.00,335.30 342.60,338.70 Q339.00,342.10 335.40,338.70Z" fill="#2f7040"/><ellipse cx="339.00" cy="338.50" rx="1.62" ry="0.77" fill="#7ab888" opacity="0.6"/><path d="M398.00,349.00 Q402.30,344.40 406.60,349.00 Q402.30,353.60 398.00,349.00Z" fill="#7ab888" opacity="0.45"/><path d="M398.70,349.00 Q402.30,345.60 405.90,349.00 Q402.30,352.40 398.70,349.00Z" fill="#2f7040"/><ellipse cx="402.30" cy="348.80" rx="1.62" ry="0.77" fill="#7ab888" opacity="0.6"/><path d="M416.50,296.80 Q420.80,292.20 425.10,296.80 Q420.80,301.40 416.50,296.80Z" fill="#7ab888" opacity="0.45"/><path d="M417.20,296.80 Q420.80,293.40 424.40,296.80 Q420.80,300.20 417.20,296.80Z" fill="#2f7040"/><ellipse cx="420.80" cy="296.60" rx="1.62" ry="0.77" fill="#7ab888" opacity="0.6"/><path d="M422.50,309.80 Q426.80,305.20 431.10,309.80 Q426.80,314.40 422.50,309.80Z" fill="#7ab888" opacity="0.45"/><path d="M423.20,309.80 Q426.80,306.40 430.40,309.80 Q426.80,313.20 423.20,309.80Z" fill="#2f7040"/><ellipse cx="426.80" cy="309.60" rx="1.62" ry="0.77" fill="#7ab888" opacity="0.6"/><path d="M462.60,326.40 Q466.90,321.80 471.20,326.40 Q466.90,331.00 462.60,326.40Z" fill="#7ab888" opacity="0.45"/><path d="M463.30,326.40 Q466.90,323.00 470.50,326.40 Q466.90,329.80 463.30,326.40Z" fill="#2f7040"/><ellipse cx="466.90" cy="326.20" rx="1.62" ry="0.77" fill="#7ab888" opacity="0.6"/><polygon points="404.5,363.0 406.3,366.4 408.90000000000003,368.2 406.3,370.0 404.5,373.4 402.7,370.0 400.09999999999997,368.2 402.7,366.4" fill="#7ab888" opacity="0.45"/><polygon points="404.5,363.8 405.7,367.0 408.1,368.2 405.7,369.4 404.5,372.59999999999997 403.3,369.4 400.9,368.2 403.3,367.0" fill="#2f7a40"/><circle cx="404.5" cy="368.2" r="1.3" fill="#2f7a40"/><path d="M405.90,387.40 Q410.20,382.80 414.50,387.40 Q410.20,392.00 405.90,387.40Z" fill="#7ab888" opacity="0.45"/><path d="M406.60,387.40 Q410.20,384.00 413.80,387.40 Q410.20,390.80 406.60,387.40Z" fill="#2f7040"/><ellipse cx="410.20" cy="387.20" rx="1.62" ry="0.77" fill="#7ab888" opacity="0.6"/><path d="M289.30,355.80 Q294.20,351.00 299.10,355.80 Q294.20,360.60 289.30,355.80Z" fill="#d08a80" opacity="0.45"/><path d="M290.00,355.80 Q294.20,352.20 298.40,355.80 Q294.20,359.40 290.00,355.80Z" fill="#a8463a"/><ellipse cx="294.20" cy="355.60" rx="1.89" ry="0.81" fill="#d08a80" opacity="0.6"/><path d="M313.60,384.00 Q317.90,379.40 322.20,384.00 Q317.90,388.60 313.60,384.00Z" fill="#7ab888" opacity="0.45"/><path d="M314.30,384.00 Q317.90,380.60 321.50,384.00 Q317.90,387.40 314.30,384.00Z" fill="#2f7040"/><ellipse cx="317.90" cy="383.80" rx="1.62" ry="0.77" fill="#7ab888" opacity="0.6"/><path d="M368.10,372.70 Q372.40,368.10 376.70,372.70 Q372.40,377.30 368.10,372.70Z" fill="#7ab888" opacity="0.45"/><path d="M368.80,372.70 Q372.40,369.30 376.00,372.70 Q372.40,376.10 368.80,372.70Z" fill="#2f7040"/><ellipse cx="372.40" cy="372.50" rx="1.62" ry="0.77" fill="#7ab888" opacity="0.6"/><path d="M389.10,395.30 Q393.40,390.70 397.70,395.30 Q393.40,399.90 389.10,395.30Z" fill="#7ab888" opacity="0.45"/><path d="M389.80,395.30 Q393.40,391.90 397.00,395.30 Q393.40,398.70 389.80,395.30Z" fill="#2f7040"/><ellipse cx="393.40" cy="395.10" rx="1.62" ry="0.77" fill="#7ab888" opacity="0.6"/><path d="M351.20,401.00 Q356.10,396.20 361.00,401.00 Q356.10,405.80 351.20,401.00Z" fill="#d08a80" opacity="0.45"/><path d="M351.90,401.00 Q356.10,397.40 360.30,401.00 Q356.10,404.60 351.90,401.00Z" fill="#a8463a"/><ellipse cx="356.10" cy="400.80" rx="1.89" ry="0.81" fill="#d08a80" opacity="0.6"/><path d="M352.30,414.50 Q357.20,409.70 362.10,414.50 Q357.20,419.30 352.30,414.50Z" fill="#d08a80" opacity="0.45"/><path d="M353.00,414.50 Q357.20,410.90 361.40,414.50 Q357.20,418.10 353.00,414.50Z" fill="#a8463a"/><ellipse cx="357.20" cy="414.30" rx="1.89" ry="0.81" fill="#d08a80" opacity="0.6"/><path d="M369.30,418.60 Q374.20,413.80 379.10,418.60 Q374.20,423.40 369.30,418.60Z" fill="#d08a80" opacity="0.45"/><path d="M370.00,418.60 Q374.20,415.00 378.40,418.60 Q374.20,422.20 370.00,418.60Z" fill="#a8463a"/><ellipse cx="374.20" cy="418.40" rx="1.89" ry="0.81" fill="#d08a80" opacity="0.6"/></g>
<g><text x="306.0" y="217.0" font-size="2.7" text-anchor="middle" fill="#505050" stroke="#505050" stroke-width="0.04">HNRNPH1</text><text x="306.0" y="221.0" font-size="2.6" text-anchor="middle" fill="#444" stroke="#444" stroke-width="0.08">1.55</text><text x="324.0" y="219.5" font-size="2.7" text-anchor="middle" fill="#505050" stroke="#505050" stroke-width="0.04">CCTC</text><text x="324.0" y="223.5" font-size="2.6" text-anchor="middle" fill="#444" stroke="#444" stroke-width="0.08">0.64</text><text x="297.5" y="231.0" font-size="2.7" text-anchor="middle" fill="#505050" stroke="#505050" stroke-width="0.04">APOL1</text><text x="297.5" y="235.0" font-size="2.6" text-anchor="middle" fill="#444" stroke="#444" stroke-width="0.08">0.38</text><text x="326.0" y="234.5" font-size="2.7" text-anchor="middle" fill="#505050" stroke="#505050" stroke-width="0.04">KRT18</text><text x="326.0" y="238.5" font-size="2.6" text-anchor="middle" fill="#444" stroke="#444" stroke-width="0.08">0.64</text><text x="272.5" y="249.0" font-size="2.3" text-anchor="middle" fill="#222" stroke="#222" stroke-width="0.16">100.000</text><text x="288.0" y="244.4" font-size="2.7" text-anchor="middle" fill="#505050" stroke="#505050" stroke-width="0.04">CHEVA</text><text x="288.0" y="248.4" font-size="2.6" text-anchor="middle" fill="#444" stroke="#444" stroke-width="0.08">0.17</text><text x="325.0" y="253.0" font-size="2.3" text-anchor="middle" fill="#222" stroke="#222" stroke-width="0.16">100.000</text><text x="287.4" y="261.4" font-size="2.3" text-anchor="middle" fill="#222" stroke="#222" stroke-width="0.16">100.000</text><text x="303.3" y="256.2" font-size="2.7" text-anchor="middle" fill="#505050" stroke="#505050" stroke-width="0.04">HNRNPAB</text><text x="303.3" y="260.2" font-size="2.6" text-anchor="middle" fill="#444" stroke="#444" stroke-width="0.08">2.33</text><text x="265.3" y="260.3" font-size="2.7" text-anchor="middle" fill="#505050" stroke="#505050" stroke-width="0.04">TAGLN2</text><text x="265.3" y="264.3" font-size="2.6" text-anchor="middle" fill="#444" stroke="#444" stroke-width="0.08">0.38</text><text x="319.6" y="272.3" font-size="2.3" text-anchor="middle" fill="#222" stroke="#222" stroke-width="0.16">100.000</text><text x="286.1" y="270.3" font-size="2.7" text-anchor="middle" fill="#505050" stroke="#505050" stroke-width="0.04">COL1A1</text><text x="286.1" y="274.3" font-size="2.6" text-anchor="middle" fill="#444" stroke="#444" stroke-width="0.08">0.38</text><text x="267.1" y="275.0" font-size="2.7" text-anchor="middle" fill="#505050" stroke="#505050" stroke-width="0.04">HSPA5</text><text x="267.1" y="279.0" font-size="2.6" text-anchor="middle" fill="#444" stroke="#444" stroke-width="0.08">0.48</text><text x="340.0" y="211.0" font-size="2.7" text-anchor="middle" fill="#505050" stroke="#505050" stroke-width="0.04">USO1</text><text x="340.0" y="215.0" font-size="2.6" text-anchor="middle" fill="#444" stroke="#444" stroke-width="0.08">3.00</text><text x="366.0" y="209.0" font-size="2.7" text-anchor="middle" fill="#505050" stroke="#505050" stroke-width="0.04">KRT80</text><text x="366.0" y="213.0" font-size="2.6" text-anchor="middle" fill="#444" stroke="#444" stroke-width="0.08">0.48</text><text x="388.7" y="213.0" font-size="2.7" text-anchor="middle" fill="#505050" stroke="#505050" stroke-width="0.04">NTPA</text><text x="388.7" y="217.0" font-size="2.6" text-anchor="middle" fill="#444" stroke="#444" stroke-width="0.08">0.17</text><text x="369.7" y="224.5" font-size="2.7" text-anchor="middle" fill="#505050" stroke="#505050" stroke-width="0.04">CUACAN</text><text x="369.7" y="228.5" font-size="2.6" text-anchor="middle" fill="#444" stroke="#444" stroke-width="0.08">4.44</text><text x="354.4" y="231.7" font-size="2.7" text-anchor="middle" fill="#505050" stroke="#505050" stroke-width="0.04">RBM</text><text x="354.4" y="235.7" font-size="2.6" text-anchor="middle" fill="#444" stroke="#444" stroke-width="0.08">0.48</text><text x="382.4" y="230.0" font-size="2.7" text-anchor="middle" fill="#505050" stroke="#505050" stroke-width="0.04">ABCA</text><text x="382.4" y="234.0" font-size="2.6" text-anchor="middle" fill="#444" stroke="#444" stroke-width="0.08">3.00</text><text x="339.9" y="235.4" font-size="2.7" text-anchor="middle" fill="#505050" stroke="#505050" stroke-width="0.04">VCL</text><text x="339.9" y="239.4" font-size="2.6" text-anchor="middle" fill="#444" stroke="#444" stroke-width="0.08">2.33</text><text x="398.7" y="236.3" font-size="2.7" text-anchor="middle" fill="#505050" stroke="#505050" stroke-width="0.04">GSB</text><text x="398.7" y="240.3" font-size="2.6" text-anchor="middle" fill="#444" stroke="#444" stroke-width="0.08">0.38</text><text x="376.1" y="245.3" font-size="2.7" text-anchor="middle" fill="#505050" stroke="#505050" stroke-width="0.04">HNRNPH</text><text x="376.1" y="249.3" font-size="2.6" text-anchor="middle" fill="#444" stroke="#444" stroke-width="0.08">2.33</text><text x="401.4" y="250.7" font-size="2.7" text-anchor="middle" fill="#505050" stroke="#505050" stroke-width="0.04">SERPINH1</text><text x="401.4" y="254.7" font-size="2.6" text-anchor="middle" fill="#444" stroke="#444" stroke-width="0.08">1.22</text><text x="347.1" y="259.8" font-size="2.7" text-anchor="middle" fill="#505050" stroke="#505050" stroke-width="0.04">PTGS2</text><text x="347.1" y="263.8" font-size="2.6" text-anchor="middle" fill="#444" stroke="#444" stroke-width="0.08">0.17</text><text x="361.6" y="257.1" font-size="2.7" text-anchor="middle" fill="#505050" stroke="#505050" stroke-width="0.04">EEF1A1</text><text x="361.6" y="261.1" font-size="2.6" text-anchor="middle" fill="#444" stroke="#444" stroke-width="0.08">0.64</text><text x="389.6" y="255.2" font-size="2.7" text-anchor="middle" fill="#505050" stroke="#505050" stroke-width="0.04">VIM</text><text x="389.6" y="259.2" font-size="2.6" text-anchor="middle" fill="#444" stroke="#444" stroke-width="0.08">1.55</text><text x="334.5" y="263.4" font-size="2.7" text-anchor="middle" fill="#505050" stroke="#505050" stroke-width="0.04">JUP</text><text x="334.5" y="267.4" font-size="2.6" text-anchor="middle" fill="#444" stroke="#444" stroke-width="0.08">0.48</text><text x="384.2" y="267.9" font-size="2.7" text-anchor="middle" fill="#505050" stroke="#505050" stroke-width="0.04">HNRNPA1</text><text x="384.2" y="271.9" font-size="2.6" text-anchor="middle" fill="#444" stroke="#444" stroke-width="0.08">2.33</text><text x="373.3" y="273.3" font-size="2.7" text-anchor="middle" fill="#505050" stroke="#505050" stroke-width="0.04">SSC</text><text x="373.3" y="277.3" font-size="2.6" text-anchor="middle" fill="#444" stroke="#444" stroke-width="0.08">0.48</text><text x="336.3" y="277.0" font-size="2.7" text-anchor="middle" fill="#505050" stroke="#505050" stroke-width="0.04">PGM</text><text x="336.3" y="281.0" font-size="2.6" text-anchor="middle" fill="#444" stroke="#444" stroke-width="0.08">4.44</text><text x="410.8" y="220.0" font-size="2.7" text-anchor="middle" fill="#505050" stroke="#505050" stroke-width="0.04">HBS1</text><text x="410.8" y="224.0" font-size="2.6" text-anchor="middle" fill="#444" stroke="#444" stroke-width="0.08">0.17</text><text x="416.3" y="239.9" font-size="2.7" text-anchor="middle" fill="#505050" stroke="#505050" stroke-width="0.04">MRAS</text><text x="416.3" y="243.9" font-size="2.6" text-anchor="middle" fill="#444" stroke="#444" stroke-width="0.08">3.00</text><text x="431.6" y="237.2" font-size="2.7" text-anchor="middle" fill="#505050" stroke="#505050" stroke-width="0.04">MCC2</text><text x="431.6" y="241.2" font-size="2.6" text-anchor="middle" fill="#444" stroke="#444" stroke-width="0.08">2.33</text><text x="446.1" y="246.2" font-size="2.7" text-anchor="middle" fill="#505050" stroke="#505050" stroke-width="0.04">EEF1A2</text><text x="446.1" y="250.2" font-size="2.6" text-anchor="middle" fill="#444" stroke="#444" stroke-width="0.08">0.64</text><text x="415.4" y="258.0" font-size="2.7" text-anchor="middle" fill="#505050" stroke="#505050" stroke-width="0.04">YWHAQ</text><text x="415.4" y="262.0" font-size="2.6" text-anchor="middle" fill="#444" stroke="#444" stroke-width="0.08">2.33</text><text x="428.9" y="258.0" font-size="2.7" text-anchor="middle" fill="#505050" stroke="#505050" stroke-width="0.04">HNRNPA2</text><text x="428.9" y="262.0" font-size="2.6" text-anchor="middle" fill="#444" stroke="#444" stroke-width="0.08">4.44</text><text x="408.1" y="276.4" font-size="2.3" text-anchor="middle" fill="#222" stroke="#222" stroke-width="0.16">100.000</text><text x="440.7" y="267.0" font-size="2.7" text-anchor="middle" fill="#505050" stroke="#505050" stroke-width="0.04">FGB</text><text x="440.7" y="271.0" font-size="2.6" text-anchor="middle" fill="#444" stroke="#444" stroke-width="0.08">0.38</text><text x="456.1" y="275.5" font-size="2.3" text-anchor="middle" fill="#222" stroke="#222" stroke-width="0.16">100.000</text><text x="471.4" y="276.5" font-size="2.7" text-anchor="middle" fill="#505050" stroke="#505050" stroke-width="0.04">HSP90AA1</text><text x="471.4" y="280.5" font-size="2.6" text-anchor="middle" fill="#444" stroke="#444" stroke-width="0.08">4.44</text><text x="294.2" y="285.5" font-size="2.7" text-anchor="middle" fill="#505050" stroke="#505050" stroke-width="0.04">CL</text><text x="294.2" y="289.5" font-size="2.6" text-anchor="middle" fill="#444" stroke="#444" stroke-width="0.08">1.22</text><text x="313.2" y="289.5" font-size="2.3" text-anchor="middle" fill="#222" stroke="#222" stroke-width="0.16">100.000</text><text x="252.7" y="292.7" font-size="2.7" text-anchor="middle" fill="#505050" stroke="#505050" stroke-width="0.04">PRDX1</text><text x="252.7" y="296.7" font-size="2.6" text-anchor="middle" fill="#444" stroke="#444" stroke-width="0.08">0.38</text><text x="272.5" y="290.0" font-size="2.7" text-anchor="middle" fill="#505050" stroke="#505050" stroke-width="0.04">CAPN1</text><text x="272.5" y="294.0" font-size="2.6" text-anchor="middle" fill="#444" stroke="#444" stroke-width="0.08">2.33</text><text x="295.2" y="303.6" font-size="2.3" text-anchor="middle" fill="#222" stroke="#222" stroke-width="0.16">100.000</text><text x="312.3" y="307.5" font-size="2.3" text-anchor="middle" fill="#222" stroke="#222" stroke-width="0.16">100.000</text><text x="325.0" y="313.0" font-size="2.3" text-anchor="middle" fill="#222" stroke="#222" stroke-width="0.16">100.000</text><text x="281.6" y="303.2" font-size="2.7" text-anchor="middle" fill="#505050" stroke="#505050" stroke-width="0.04">GSP</text><text x="281.6" y="307.2" font-size="2.6" text-anchor="middle" fill="#444" stroke="#444" stroke-width="0.08">2.33</text><text x="248.1" y="313.0" font-size="2.7" text-anchor="middle" fill="#505050" stroke="#505050" stroke-width="0.04">CASP14</text><text x="248.1" y="317.0" font-size="2.6" text-anchor="middle" fill="#444" stroke="#444" stroke-width="0.08">0.17</text><text x="266.2" y="318.9" font-size="2.7" text-anchor="middle" fill="#505050" stroke="#505050" stroke-width="0.04">LGALS3BP</text><text x="266.2" y="322.9" font-size="2.6" text-anchor="middle" fill="#444" stroke="#444" stroke-width="0.08">1.55</text><text x="281.6" y="315.3" font-size="2.7" text-anchor="middle" fill="#505050" stroke="#505050" stroke-width="0.04">HPSA</text><text x="281.6" y="319.3" font-size="2.6" text-anchor="middle" fill="#444" stroke="#444" stroke-width="0.08">0.17</text><text x="297.9" y="313.0" font-size="2.7" text-anchor="middle" fill="#505050" stroke="#505050" stroke-width="0.04">SLC25A5</text><text x="297.9" y="317.0" font-size="2.6" text-anchor="middle" fill="#444" stroke="#444" stroke-width="0.08">3.00</text><text x="310.5" y="320.6" font-size="2.3" text-anchor="middle" fill="#222" stroke="#222" stroke-width="0.16">100.000</text><text x="296.1" y="325.2" font-size="2.7" text-anchor="middle" fill="#505050" stroke="#505050" stroke-width="0.04">NPEPPS</text><text x="296.1" y="329.2" font-size="2.6" text-anchor="middle" fill="#444" stroke="#444" stroke-width="0.08">0.64</text><text x="246.3" y="335.2" font-size="2.7" text-anchor="middle" fill="#505050" stroke="#505050" stroke-width="0.04">PEBP1</text><text x="246.3" y="339.2" font-size="2.6" text-anchor="middle" fill="#444" stroke="#444" stroke-width="0.08">3.00</text><text x="261.7" y="344.3" font-size="2.3" text-anchor="middle" fill="#222" stroke="#222" stroke-width="0.16">100.000</text><text x="281.6" y="332.5" font-size="2.7" text-anchor="middle" fill="#505050" stroke="#505050" stroke-width="0.04">RPS3</text><text x="281.6" y="336.5" font-size="2.6" text-anchor="middle" fill="#444" stroke="#444" stroke-width="0.08">0.17</text><text x="311.4" y="347.7" font-size="2.3" text-anchor="middle" fill="#222" stroke="#222" stroke-width="0.16">100.000</text><text x="325.0" y="335.2" font-size="2.7" text-anchor="middle" fill="#505050" stroke="#505050" stroke-width="0.04">HNRNPC</text><text x="325.0" y="339.2" font-size="2.6" text-anchor="middle" fill="#444" stroke="#444" stroke-width="0.08">0.38</text><text x="348.9" y="284.6" font-size="2.7" text-anchor="middle" fill="#505050" stroke="#505050" stroke-width="0.04">MAP4</text><text x="348.9" y="288.6" font-size="2.6" text-anchor="middle" fill="#444" stroke="#444" stroke-width="0.08">0.38</text><text x="336.3" y="294.0" font-size="2.3" text-anchor="middle" fill="#222" stroke="#222" stroke-width="0.16">100.000</text><text x="362.5" y="296.7" font-size="2.3" text-anchor="middle" fill="#222" stroke="#222" stroke-width="0.16">100.000</text><text x="376.1" y="294.5" font-size="2.7" text-anchor="middle" fill="#505050" stroke="#505050" stroke-width="0.04">HNRNPU</text><text x="376.1" y="298.5" font-size="2.6" text-anchor="middle" fill="#444" stroke="#444" stroke-width="0.08">1.22</text><text x="389.6" y="289.1" font-size="2.7" text-anchor="middle" fill="#505050" stroke="#505050" stroke-width="0.04">CFL1</text><text x="389.6" y="293.1" font-size="2.6" text-anchor="middle" fill="#444" stroke="#444" stroke-width="0.08">3.00</text><text x="405.0" y="290.0" font-size="2.7" text-anchor="middle" fill="#505050" stroke="#505050" stroke-width="0.04">TAGLN</text><text x="405.0" y="294.0" font-size="2.6" text-anchor="middle" fill="#444" stroke="#444" stroke-width="0.08">0.38</text><text x="338.1" y="308.1" font-size="2.7" text-anchor="middle" fill="#505050" stroke="#505050" stroke-width="0.04">HNRNPAB</text><text x="338.1" y="312.1" font-size="2.6" text-anchor="middle" fill="#444" stroke="#444" stroke-width="0.08">4.44</text><text x="355.8" y="318.4" font-size="2.3" text-anchor="middle" fill="#222" stroke="#222" stroke-width="0.16">100.000</text><text x="385.1" y="309.9" font-size="2.7" text-anchor="middle" fill="#505050" stroke="#505050" stroke-width="0.04">PLEC</text><text x="385.1" y="313.9" font-size="2.6" text-anchor="middle" fill="#444" stroke="#444" stroke-width="0.08">0.17</text><text x="399.6" y="306.3" font-size="2.7" text-anchor="middle" fill="#505050" stroke="#505050" stroke-width="0.04">IDH1</text><text x="399.6" y="310.3" font-size="2.6" text-anchor="middle" fill="#444" stroke="#444" stroke-width="0.08">4.44</text><text x="399.6" y="312.6" font-size="2.7" text-anchor="middle" fill="#505050" stroke="#505050" stroke-width="0.04">ATP5</text><text x="399.6" y="316.6" font-size="2.6" text-anchor="middle" fill="#444" stroke="#444" stroke-width="0.08">2.33</text><text x="335.4" y="327.1" font-size="2.7" text-anchor="middle" fill="#505050" stroke="#505050" stroke-width="0.04">EEF1</text><text x="335.4" y="331.1" font-size="2.6" text-anchor="middle" fill="#444" stroke="#444" stroke-width="0.08">0.48</text><text x="368.8" y="331.6" font-size="2.7" text-anchor="middle" fill="#505050" stroke="#505050" stroke-width="0.04">S100A6</text><text x="368.8" y="335.6" font-size="2.6" text-anchor="middle" fill="#444" stroke="#444" stroke-width="0.08">1.22</text><text x="393.2" y="332.5" font-size="2.3" text-anchor="middle" fill="#222" stroke="#222" stroke-width="0.16">100.000</text><text x="354.4" y="341.9" font-size="2.3" text-anchor="middle" fill="#222" stroke="#222" stroke-width="0.16">100.000</text><text x="339.0" y="343.7" font-size="2.3" text-anchor="middle" fill="#222" stroke="#222" stroke-width="0.16">100.000</text><text x="382.4" y="344.2" font-size="2.7" text-anchor="middle" fill="#505050" stroke="#505050" stroke-width="0.04">ACTB</text><text x="382.4" y="348.2" font-size="2.6" text-anchor="middle" fill="#444" stroke="#444" stroke-width="0.08">1.22</text><text x="402.3" y="354.0" font-size="2.3" text-anchor="middle" fill="#222" stroke="#222" stroke-width="0.16">100.000</text><text x="436.2" y="289.1" font-size="2.7" text-anchor="middle" fill="#505050" stroke="#505050" stroke-width="0.04">VCP</text><text x="436.2" y="293.1" font-size="2.6" text-anchor="middle" fill="#444" stroke="#444" stroke-width="0.08">0.17</text><text x="420.8" y="301.8" font-size="2.3" text-anchor="middle" fill="#222" stroke="#222" stroke-width="0.16">100.000</text><text x="451.5" y="297.8" font-size="2.7" text-anchor="middle" fill="#505050" stroke="#505050" stroke-width="0.04">HSPA</text><text x="451.5" y="301.8" font-size="2.6" text-anchor="middle" fill="#444" stroke="#444" stroke-width="0.08">4.44</text><text x="464.2" y="297.2" font-size="2.7" text-anchor="middle" fill="#505050" stroke="#505050" stroke-width="0.04">EEF2</text><text x="464.2" y="301.2" font-size="2.6" text-anchor="middle" fill="#444" stroke="#444" stroke-width="0.08">4.44</text><text x="477.8" y="303.2" font-size="2.7" text-anchor="middle" fill="#505050" stroke="#505050" stroke-width="0.04">LDB1</text><text x="477.8" y="307.2" font-size="2.6" text-anchor="middle" fill="#444" stroke="#444" stroke-width="0.08">1.55</text><text x="426.8" y="314.8" font-size="2.3" text-anchor="middle" fill="#222" stroke="#222" stroke-width="0.16">100.000</text><text x="448.8" y="314.0" font-size="2.7" text-anchor="middle" fill="#505050" stroke="#505050" stroke-width="0.04">CAP1</text><text x="448.8" y="318.0" font-size="2.6" text-anchor="middle" fill="#444" stroke="#444" stroke-width="0.08">4.44</text><text x="413.6" y="324.9" font-size="2.7" text-anchor="middle" fill="#505050" stroke="#505050" stroke-width="0.04">HNRNPK</text><text x="413.6" y="328.9" font-size="2.6" text-anchor="middle" fill="#444" stroke="#444" stroke-width="0.08">0.38</text><text x="432.5" y="326.2" font-size="2.7" text-anchor="middle" fill="#505050" stroke="#505050" stroke-width="0.04">CALR</text><text x="432.5" y="330.2" font-size="2.6" text-anchor="middle" fill="#444" stroke="#444" stroke-width="0.08">2.33</text><text x="451.5" y="332.5" font-size="2.7" text-anchor="middle" fill="#505050" stroke="#505050" stroke-width="0.04">ENO2</text><text x="451.5" y="336.5" font-size="2.6" text-anchor="middle" fill="#444" stroke="#444" stroke-width="0.08">4.44</text><text x="466.9" y="331.4" font-size="2.3" text-anchor="middle" fill="#222" stroke="#222" stroke-width="0.16">100.000</text><text x="415.8" y="346.0" font-size="2.7" text-anchor="middle" fill="#505050" stroke="#505050" stroke-width="0.04">ACTR2</text><text x="415.8" y="350.0" font-size="2.6" text-anchor="middle" fill="#444" stroke="#444" stroke-width="0.08">0.17</text><text x="430.7" y="345.5" font-size="2.7" text-anchor="middle" fill="#505050" stroke="#505050" stroke-width="0.04">ACTN4</text><text x="430.7" y="349.5" font-size="2.6" text-anchor="middle" fill="#444" stroke="#444" stroke-width="0.08">0.38</text><text x="446.1" y="347.0" font-size="2.7" text-anchor="middle" fill="#505050" stroke="#505050" stroke-width="0.04">ANXA2</text><text x="446.1" y="351.0" font-size="2.6" text-anchor="middle" fill="#444" stroke="#444" stroke-width="0.08">0.64</text><text x="463.2" y="358.0" font-size="2.7" text-anchor="middle" fill="#505050" stroke="#505050" stroke-width="0.04">RPS8</text><text x="463.2" y="362.0" font-size="2.6" text-anchor="middle" fill="#444" stroke="#444" stroke-width="0.08">1.22</text><text x="438.4" y="362.4" font-size="2.7" text-anchor="middle" fill="#505050" stroke="#505050" stroke-width="0.04">CAPN2</text><text x="438.4" y="366.4" font-size="2.6" text-anchor="middle" fill="#444" stroke="#444" stroke-width="0.08">2.33</text><text x="404.5" y="373.2" font-size="2.3" text-anchor="middle" fill="#222" stroke="#222" stroke-width="0.16">100.000</text><text x="419.2" y="374.4" font-size="2.7" text-anchor="middle" fill="#505050" stroke="#505050" stroke-width="0.04">CD9</text><text x="419.2" y="378.4" font-size="2.6" text-anchor="middle" fill="#444" stroke="#444" stroke-width="0.08">4.44</text><text x="432.7" y="377.1" font-size="2.7" text-anchor="middle" fill="#505050" stroke="#505050" stroke-width="0.04">CPS</text><text x="432.7" y="381.1" font-size="2.6" text-anchor="middle" fill="#444" stroke="#444" stroke-width="0.08">4.44</text><text x="449.7" y="378.2" font-size="2.7" text-anchor="middle" fill="#505050" stroke="#505050" stroke-width="0.04">HSPA4</text><text x="449.7" y="382.2" font-size="2.6" text-anchor="middle" fill="#444" stroke="#444" stroke-width="0.08">0.64</text><text x="410.2" y="392.4" font-size="2.3" text-anchor="middle" fill="#222" stroke="#222" stroke-width="0.16">100.000</text><text x="433.9" y="395.6" font-size="2.7" text-anchor="middle" fill="#505050" stroke="#505050" stroke-width="0.04">UCHL1</text><text x="433.9" y="399.6" font-size="2.6" text-anchor="middle" fill="#444" stroke="#444" stroke-width="0.08">1.55</text><text x="411.3" y="402.0" font-size="2.7" text-anchor="middle" fill="#505050" stroke="#505050" stroke-width="0.04">RSD4</text><text x="411.3" y="406.0" font-size="2.6" text-anchor="middle" fill="#444" stroke="#444" stroke-width="0.08">0.64</text><text x="409.0" y="420.0" font-size="2.7" text-anchor="middle" fill="#505050" stroke="#505050" stroke-width="0.04">ENG</text><text x="409.0" y="424.0" font-size="2.6" text-anchor="middle" fill="#444" stroke="#444" stroke-width="0.08">2.33</text><text x="277.2" y="350.0" font-size="2.7" text-anchor="middle" fill="#505050" stroke="#505050" stroke-width="0.04">HSPG2</text><text x="277.2" y="354.0" font-size="2.6" text-anchor="middle" fill="#444" stroke="#444" stroke-width="0.08">0.64</text><text x="258.1" y="362.4" font-size="2.7" text-anchor="middle" fill="#505050" stroke="#505050" stroke-width="0.04">KEAP1</text><text x="258.1" y="366.4" font-size="2.6" text-anchor="middle" fill="#444" stroke="#444" stroke-width="0.08">2.33</text><text x="294.2" y="360.8" font-size="2.3" text-anchor="middle" fill="#222" stroke="#222" stroke-width="0.16">100.000</text><text x="277.2" y="367.0" font-size="2.7" text-anchor="middle" fill="#505050" stroke="#505050" stroke-width="0.04">CSDC</text><text x="277.2" y="371.0" font-size="2.6" text-anchor="middle" fill="#444" stroke="#444" stroke-width="0.08">1.22</text><text x="310.0" y="362.4" font-size="2.7" text-anchor="middle" fill="#505050" stroke="#505050" stroke-width="0.04">A2M</text><text x="310.0" y="366.4" font-size="2.6" text-anchor="middle" fill="#444" stroke="#444" stroke-width="0.08">0.17</text><text x="325.8" y="359.0" font-size="2.7" text-anchor="middle" fill="#505050" stroke="#505050" stroke-width="0.04">RAB7</text><text x="325.8" y="363.0" font-size="2.6" text-anchor="middle" fill="#444" stroke="#444" stroke-width="0.08">0.17</text><text x="296.4" y="370.3" font-size="2.7" text-anchor="middle" fill="#505050" stroke="#505050" stroke-width="0.04">SF3</text><text x="296.4" y="374.3" font-size="2.6" text-anchor="middle" fill="#444" stroke="#444" stroke-width="0.08">0.64</text><text x="276.1" y="379.4" font-size="2.7" text-anchor="middle" fill="#505050" stroke="#505050" stroke-width="0.04">NME1</text><text x="276.1" y="383.4" font-size="2.6" text-anchor="middle" fill="#444" stroke="#444" stroke-width="0.08">0.64</text><text x="317.9" y="389.0" font-size="2.3" text-anchor="middle" fill="#222" stroke="#222" stroke-width="0.16">100.000</text><text x="297.6" y="386.1" font-size="2.7" text-anchor="middle" fill="#505050" stroke="#505050" stroke-width="0.04">RAC1</text><text x="297.6" y="390.1" font-size="2.6" text-anchor="middle" fill="#444" stroke="#444" stroke-width="0.08">1.22</text><text x="281.8" y="398.6" font-size="2.7" text-anchor="middle" fill="#505050" stroke="#505050" stroke-width="0.04">C3</text><text x="281.8" y="402.6" font-size="2.6" text-anchor="middle" fill="#444" stroke="#444" stroke-width="0.08">0.64</text><text x="304.3" y="404.2" font-size="2.7" text-anchor="middle" fill="#505050" stroke="#505050" stroke-width="0.04">HNRNPH3</text><text x="304.3" y="408.2" font-size="2.6" text-anchor="middle" fill="#444" stroke="#444" stroke-width="0.08">1.55</text><text x="311.1" y="417.7" font-size="2.7" text-anchor="middle" fill="#505050" stroke="#505050" stroke-width="0.04">DNM2</text><text x="311.1" y="421.7" font-size="2.6" text-anchor="middle" fill="#444" stroke="#444" stroke-width="0.08">1.22</text><text x="325.8" y="416.6" font-size="2.7" text-anchor="middle" fill="#505050" stroke="#505050" stroke-width="0.04">COL6A1</text><text x="325.8" y="420.6" font-size="2.6" text-anchor="middle" fill="#444" stroke="#444" stroke-width="0.08">1.55</text><text x="342.6" y="354.5" font-size="2.7" text-anchor="middle" fill="#505050" stroke="#505050" stroke-width="0.04">KRT8</text><text x="342.6" y="358.5" font-size="2.6" text-anchor="middle" fill="#444" stroke="#444" stroke-width="0.08">3.00</text><text x="359.5" y="356.8" font-size="2.7" text-anchor="middle" fill="#505050" stroke="#505050" stroke-width="0.04">SFB</text><text x="359.5" y="360.8" font-size="2.6" text-anchor="middle" fill="#444" stroke="#444" stroke-width="0.08">0.48</text><text x="374.2" y="357.9" font-size="2.7" text-anchor="middle" fill="#505050" stroke="#505050" stroke-width="0.04">HSPD1</text><text x="374.2" y="361.9" font-size="2.6" text-anchor="middle" fill="#444" stroke="#444" stroke-width="0.08">0.48</text><text x="387.7" y="356.8" font-size="2.7" text-anchor="middle" fill="#505050" stroke="#505050" stroke-width="0.04">SEMPRA</text><text x="387.7" y="360.8" font-size="2.6" text-anchor="middle" fill="#444" stroke="#444" stroke-width="0.08">1.22</text><text x="342.6" y="370.3" font-size="2.7" text-anchor="middle" fill="#505050" stroke="#505050" stroke-width="0.04">MAPK1</text><text x="342.6" y="374.3" font-size="2.6" text-anchor="middle" fill="#444" stroke="#444" stroke-width="0.08">0.38</text><text x="357.2" y="373.7" font-size="2.7" text-anchor="middle" fill="#505050" stroke="#505050" stroke-width="0.04">EDF</text><text x="357.2" y="377.7" font-size="2.6" text-anchor="middle" fill="#444" stroke="#444" stroke-width="0.08">1.55</text><text x="372.4" y="377.7" font-size="2.3" text-anchor="middle" fill="#222" stroke="#222" stroke-width="0.16">100.000</text><text x="386.6" y="376.0" font-size="2.7" text-anchor="middle" fill="#505050" stroke="#505050" stroke-width="0.04">YGB</text><text x="386.6" y="380.0" font-size="2.6" text-anchor="middle" fill="#444" stroke="#444" stroke-width="0.08">2.33</text><text x="335.8" y="388.4" font-size="2.7" text-anchor="middle" fill="#505050" stroke="#505050" stroke-width="0.04">PARK7</text><text x="335.8" y="392.4" font-size="2.6" text-anchor="middle" fill="#444" stroke="#444" stroke-width="0.08">2.33</text><text x="362.9" y="387.3" font-size="2.7" text-anchor="middle" fill="#505050" stroke="#505050" stroke-width="0.04">PGRD</text><text x="362.9" y="391.3" font-size="2.6" text-anchor="middle" fill="#444" stroke="#444" stroke-width="0.08">1.55</text><text x="378.7" y="396.3" font-size="2.7" text-anchor="middle" fill="#505050" stroke="#505050" stroke-width="0.04">HEXO</text><text x="378.7" y="400.3" font-size="2.6" text-anchor="middle" fill="#444" stroke="#444" stroke-width="0.08">3.00</text><text x="393.4" y="400.3" font-size="2.3" text-anchor="middle" fill="#222" stroke="#222" stroke-width="0.16">100.000</text><text x="332.4" y="403.1" font-size="2.7" text-anchor="middle" fill="#505050" stroke="#505050" stroke-width="0.04">PGK1</text><text x="332.4" y="407.1" font-size="2.6" text-anchor="middle" fill="#444" stroke="#444" stroke-width="0.08">2.33</text><text x="356.1" y="406.0" font-size="2.3" text-anchor="middle" fill="#222" stroke="#222" stroke-width="0.16">100.000</text><text x="357.2" y="419.5" font-size="2.3" text-anchor="middle" fill="#222" stroke="#222" stroke-width="0.16">100.000</text><text x="374.2" y="423.6" font-size="2.3" text-anchor="middle" fill="#222" stroke="#222" stroke-width="0.16">100.000</text><text x="391.1" y="421.8" font-size="2.7" text-anchor="middle" fill="#505050" stroke="#505050" stroke-width="0.04">NDRG1</text><text x="391.1" y="425.8" font-size="2.6" text-anchor="middle" fill="#444" stroke="#444" stroke-width="0.08">3.00</text><text x="342.6" y="425.7" font-size="2.7" text-anchor="middle" fill="#505050" stroke="#505050" stroke-width="0.04">TPM2</text><text x="342.6" y="429.7" font-size="2.6" text-anchor="middle" fill="#444" stroke="#444" stroke-width="0.08">4.44</text><text x="359.5" y="432.4" font-size="2.7" text-anchor="middle" fill="#505050" stroke="#505050" stroke-width="0.04">PDIA</text><text x="359.5" y="436.4" font-size="2.6" text-anchor="middle" fill="#444" stroke="#444" stroke-width="0.08">1.55</text></g>
<text x="434.6" y="206.1" font-size="8" fill="#222" stroke="#222" stroke-width="0.22"><tspan font-style="italic">P</tspan> value: 2.73×10<tspan font-size="5.2" dy="-3.2">−28</tspan></text>
<text x="434.6" y="215.9" font-size="8" fill="#222" stroke="#222" stroke-width="0.22">z score: 2.149</text>
<rect x="0.55" y="0.55" width="518.9" height="441.9" fill="none" stroke="#505050" stroke-width="1.1"/>
</svg>
</body></html>
